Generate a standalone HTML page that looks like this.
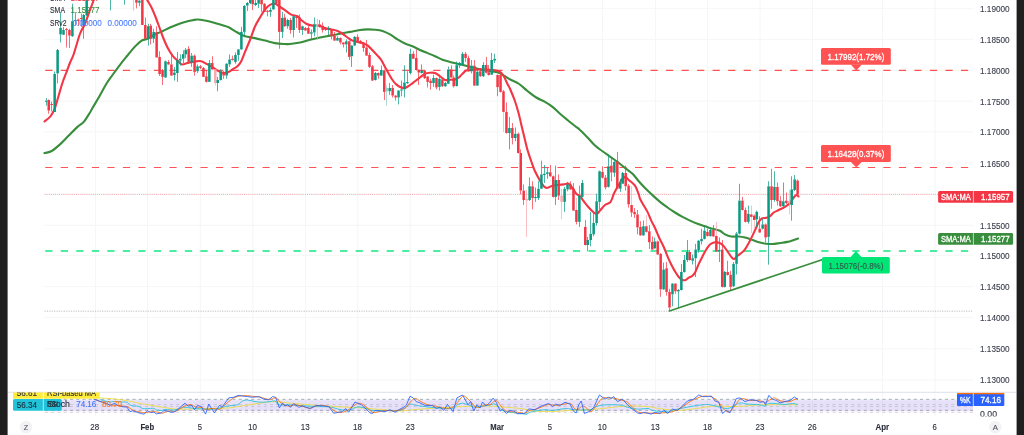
<!DOCTYPE html><html><head><meta charset="utf-8"><title>chart</title><style>html,body{margin:0;padding:0;background:#fff;}body{width:1024px;height:435px;overflow:hidden;font-family:"Liberation Sans",sans-serif;}svg{display:block}text{font-family:"Liberation Sans",sans-serif;}</style></head><body>
<svg width="1024" height="435" viewBox="0 0 1024 435">
<rect x="0" y="0" width="1024" height="435" fill="#ffffff"/>
<g style="will-change:transform">
<line x1="95.6" y1="0" x2="95.6" y2="416.5" stroke="#f5f6f7" stroke-width="1"/>
<line x1="147.6" y1="0" x2="147.6" y2="416.5" stroke="#f5f6f7" stroke-width="1"/>
<line x1="200.3" y1="0" x2="200.3" y2="416.5" stroke="#f5f6f7" stroke-width="1"/>
<line x1="252.8" y1="0" x2="252.8" y2="416.5" stroke="#f5f6f7" stroke-width="1"/>
<line x1="305.5" y1="0" x2="305.5" y2="416.5" stroke="#f5f6f7" stroke-width="1"/>
<line x1="357.8" y1="0" x2="357.8" y2="416.5" stroke="#f5f6f7" stroke-width="1"/>
<line x1="410.3" y1="0" x2="410.3" y2="416.5" stroke="#f5f6f7" stroke-width="1"/>
<line x1="497.5" y1="0" x2="497.5" y2="416.5" stroke="#f5f6f7" stroke-width="1"/>
<line x1="550.2" y1="0" x2="550.2" y2="416.5" stroke="#f5f6f7" stroke-width="1"/>
<line x1="602.5" y1="0" x2="602.5" y2="416.5" stroke="#f5f6f7" stroke-width="1"/>
<line x1="655.5" y1="0" x2="655.5" y2="416.5" stroke="#f5f6f7" stroke-width="1"/>
<line x1="707.6" y1="0" x2="707.6" y2="416.5" stroke="#f5f6f7" stroke-width="1"/>
<line x1="760.1" y1="0" x2="760.1" y2="416.5" stroke="#f5f6f7" stroke-width="1"/>
<line x1="812.5" y1="0" x2="812.5" y2="416.5" stroke="#f5f6f7" stroke-width="1"/>
<line x1="882.5" y1="0" x2="882.5" y2="416.5" stroke="#f5f6f7" stroke-width="1"/>
<line x1="935" y1="0" x2="935" y2="416.5" stroke="#f5f6f7" stroke-width="1"/>
<line x1="44.5" y1="8.40" x2="973" y2="8.40" stroke="#f5f6f7" stroke-width="1"/>
<line x1="44.5" y1="39.40" x2="973" y2="39.40" stroke="#f5f6f7" stroke-width="1"/>
<line x1="44.5" y1="70.30" x2="973" y2="70.30" stroke="#f5f6f7" stroke-width="1"/>
<line x1="44.5" y1="101.20" x2="973" y2="101.20" stroke="#f5f6f7" stroke-width="1"/>
<line x1="44.5" y1="131.90" x2="973" y2="131.90" stroke="#f5f6f7" stroke-width="1"/>
<line x1="44.5" y1="163.20" x2="973" y2="163.20" stroke="#f5f6f7" stroke-width="1"/>
<line x1="44.5" y1="194.10" x2="973" y2="194.10" stroke="#f5f6f7" stroke-width="1"/>
<line x1="44.5" y1="225.30" x2="973" y2="225.30" stroke="#f5f6f7" stroke-width="1"/>
<line x1="44.5" y1="255.40" x2="973" y2="255.40" stroke="#f5f6f7" stroke-width="1"/>
<line x1="44.5" y1="286.70" x2="973" y2="286.70" stroke="#f5f6f7" stroke-width="1"/>
<line x1="44.5" y1="317.40" x2="973" y2="317.40" stroke="#f5f6f7" stroke-width="1"/>
<line x1="44.5" y1="348.90" x2="973" y2="348.90" stroke="#f5f6f7" stroke-width="1"/>
<line x1="44.5" y1="380.00" x2="973" y2="380.00" stroke="#f5f6f7" stroke-width="1"/>
<line x1="7.6" y1="392.3" x2="1016.6" y2="392.3" stroke="#dfe2ec" stroke-width="1"/>
<rect x="44.5" y="399.4" width="928.5" height="11.4" fill="#5b4fe0" fill-opacity="0.13"/>
<rect x="44.5" y="400.6" width="928.5" height="11.9" fill="#9c4fd0" fill-opacity="0.05"/>
<line x1="44.5" y1="399.4" x2="973" y2="399.4" stroke="#6f8580" stroke-opacity="0.5" stroke-width="1.1" stroke-dasharray="3 3.25" stroke-dashoffset="-0.5"/>
<line x1="44.5" y1="404.6" x2="973" y2="404.6" stroke="#787b86" stroke-opacity="0.27" stroke-width="1" stroke-dasharray="3 3.25" stroke-dashoffset="-0.5"/>
<line x1="44.5" y1="406.6" x2="973" y2="406.6" stroke="#787b86" stroke-opacity="0.27" stroke-width="1" stroke-dasharray="3 3.25" stroke-dashoffset="-0.5"/>
<line x1="44.5" y1="410.4" x2="973" y2="410.4" stroke="#787b86" stroke-opacity="0.5" stroke-width="1.1" stroke-dasharray="3 3.25" stroke-dashoffset="-0.5"/>
<line x1="44.5" y1="412.4" x2="973" y2="412.4" stroke="#787b86" stroke-opacity="0.27" stroke-width="1" stroke-dasharray="3 3.25" stroke-dashoffset="-0.5"/>
<path d="M100.00,397.90 C101.67,398.02 106.77,398.33 110.00,398.60 C113.23,398.87 116.48,399.14 119.40,399.50 C122.32,399.86 124.90,400.28 127.50,400.75 C130.10,401.22 132.50,401.78 135.00,402.30 C137.50,402.82 140.00,403.43 142.50,403.90 C145.00,404.37 147.50,404.68 150.00,405.10 C152.50,405.52 155.00,405.98 157.50,406.40 C160.00,406.82 162.25,407.18 165.00,407.60 C167.75,408.02 170.67,408.65 174.00,408.90 C177.33,409.15 179.00,409.17 185.00,409.10 C191.00,409.03 202.71,408.70 210.00,408.50 C217.29,408.30 223.54,408.32 228.75,407.90 C233.96,407.48 237.08,406.63 241.25,406.00 C245.42,405.37 249.58,404.73 253.75,404.10 C257.92,403.48 262.50,402.67 266.25,402.25 C270.00,401.83 272.62,401.49 276.25,401.60 C279.88,401.71 284.04,402.50 288.00,402.90 C291.96,403.30 294.67,403.57 300.00,404.00 C305.33,404.43 313.33,405.03 320.00,405.50 C326.67,405.97 333.33,406.42 340.00,406.80 C346.67,407.18 353.33,407.35 360.00,407.80 C366.67,408.25 373.33,408.97 380.00,409.50 C386.67,410.03 394.58,410.96 400.00,411.00 C405.42,411.04 406.25,410.27 412.50,409.75 C418.75,409.23 429.17,408.42 437.50,407.90 C445.83,407.38 454.17,406.92 462.50,406.60 C470.83,406.28 480.21,405.89 487.50,406.00 C494.79,406.11 500.00,406.73 506.25,407.25 C512.50,407.77 520.62,408.48 525.00,409.10 C529.38,409.73 528.12,410.58 532.50,411.00 C536.88,411.42 545.00,411.70 551.25,411.60 C557.50,411.50 563.75,410.71 570.00,410.40 C576.25,410.09 582.50,410.17 588.75,409.75 C595.00,409.33 601.25,408.52 607.50,407.90 C613.75,407.27 619.50,406.22 626.25,406.00 C633.00,405.78 642.58,406.18 648.00,406.60 C653.42,407.02 653.83,407.87 658.75,408.50 C663.67,409.13 671.25,410.40 677.50,410.40 C683.75,410.40 690.00,409.23 696.25,408.50 C702.50,407.77 708.75,406.32 715.00,406.00 C721.25,405.68 727.50,406.70 733.75,406.60 C740.00,406.50 746.79,405.71 752.50,405.40 C758.21,405.09 760.50,404.86 768.00,404.75 C775.50,404.64 792.58,404.75 797.50,404.75" fill="none" stroke="#ecdc45" stroke-width="1.0" stroke-opacity="0.9" stroke-linejoin="round" stroke-linecap="round" />
<path d="M100.00,399.50 C100.83,399.75 103.33,400.58 105.00,401.00 C106.67,401.42 108.12,401.93 110.00,402.00 C111.88,402.07 114.17,401.40 116.25,401.40 C118.33,401.40 120.62,401.85 122.50,402.00 C124.38,402.15 126.15,401.73 127.50,402.30 C128.85,402.87 129.14,404.78 130.60,405.40 C132.06,406.02 134.78,405.78 136.25,406.00 C137.72,406.22 138.36,406.27 139.40,406.70 C140.44,407.13 141.15,408.28 142.50,408.60 C143.85,408.92 145.62,408.63 147.50,408.60 C149.38,408.57 152.18,408.15 153.75,408.40 C155.32,408.65 155.54,409.77 156.90,410.10 C158.26,410.43 160.55,410.50 161.90,410.40 C163.25,410.30 163.65,409.60 165.00,409.50 C166.35,409.40 168.50,409.70 170.00,409.80 C171.50,409.90 172.33,410.32 174.00,410.10 C175.67,409.88 178.17,408.98 180.00,408.50 C181.83,408.02 182.50,407.25 185.00,407.25 C187.50,407.25 191.67,408.19 195.00,408.50 C198.33,408.81 201.67,409.00 205.00,409.10 C208.33,409.20 212.08,409.41 215.00,409.10 C217.92,408.79 220.42,407.77 222.50,407.25 C224.58,406.73 225.00,406.42 227.50,406.00 C230.00,405.58 235.00,405.58 237.50,404.75 C240.00,403.92 240.83,401.79 242.50,401.00 C244.17,400.21 245.42,399.90 247.50,400.00 C249.58,400.10 252.50,401.23 255.00,401.60 C257.50,401.98 260.00,402.25 262.50,402.25 C265.00,402.25 267.92,401.81 270.00,401.60 C272.08,401.39 273.54,400.48 275.00,401.00 C276.46,401.52 276.58,404.12 278.75,404.75 C280.92,405.38 284.46,404.62 288.00,404.75 C291.54,404.88 295.50,405.21 300.00,405.50 C304.50,405.79 310.00,406.25 315.00,406.50 C320.00,406.75 325.83,406.50 330.00,407.00 C334.17,407.50 336.67,409.00 340.00,409.50 C343.33,410.00 347.17,410.42 350.00,410.00 C352.83,409.58 354.50,407.33 357.00,407.00 C359.50,406.67 362.50,407.42 365.00,408.00 C367.50,408.58 368.67,410.08 372.00,410.50 C375.33,410.92 380.33,410.52 385.00,410.50 C389.67,410.48 396.25,411.15 400.00,410.40 C403.75,409.65 405.83,407.05 407.50,406.00 C409.17,404.95 408.54,404.20 410.00,404.10 C411.46,404.00 413.75,404.98 416.25,405.40 C418.75,405.82 421.46,406.18 425.00,406.60 C428.54,407.02 432.92,407.58 437.50,407.90 C442.08,408.22 449.17,409.02 452.50,408.50 C455.83,407.98 455.83,405.62 457.50,404.75 C459.17,403.88 460.42,403.14 462.50,403.25 C464.58,403.36 467.92,404.73 470.00,405.40 C472.08,406.07 472.08,407.25 475.00,407.25 C477.92,407.25 484.17,405.92 487.50,405.40 C490.83,404.88 492.92,403.58 495.00,404.10 C497.08,404.62 498.12,407.25 500.00,408.50 C501.88,409.75 502.08,410.67 506.25,411.60 C510.42,412.53 521.67,413.68 525.00,414.10 C528.33,414.52 525.00,414.52 526.25,414.10 C527.50,413.68 529.38,412.33 532.50,411.60 C535.62,410.88 541.67,409.95 545.00,409.75 C548.33,409.55 548.96,410.61 552.50,410.40 C556.04,410.19 562.50,408.61 566.25,408.50 C570.00,408.39 571.04,409.54 575.00,409.75 C578.96,409.96 586.67,410.17 590.00,409.75 C593.33,409.33 593.33,407.98 595.00,407.25 C596.67,406.52 597.92,405.82 600.00,405.40 C602.08,404.98 605.00,404.86 607.50,404.75 C610.00,404.64 612.50,404.64 615.00,404.75 C617.50,404.86 620.42,404.98 622.50,405.40 C624.58,405.82 625.00,406.63 627.50,407.25 C630.00,407.87 634.08,408.89 637.50,409.10 C640.92,409.31 645.50,408.28 648.00,408.50 C650.50,408.72 649.67,409.88 652.50,410.40 C655.33,410.92 660.83,411.82 665.00,411.60 C669.17,411.38 673.33,409.93 677.50,409.10 C681.67,408.27 685.83,407.33 690.00,406.60 C694.17,405.88 699.17,405.06 702.50,404.75 C705.83,404.44 707.50,404.44 710.00,404.75 C712.50,405.06 714.58,405.98 717.50,406.60 C720.42,407.23 724.58,408.70 727.50,408.50 C730.42,408.30 732.92,406.33 735.00,405.40 C737.08,404.47 737.92,403.12 740.00,402.90 C742.08,402.68 744.38,403.79 747.50,404.10 C750.62,404.41 755.83,404.43 758.75,404.75 C761.67,405.07 763.33,406.21 765.00,406.00 C766.67,405.79 767.08,403.92 768.75,403.50 C770.42,403.08 772.29,403.33 775.00,403.50 C777.71,403.67 782.08,404.50 785.00,404.50 C787.92,404.50 790.42,403.50 792.50,403.50 C794.58,403.50 796.67,404.33 797.50,404.50" fill="none" stroke="#2bc2da" stroke-width="1.0" stroke-opacity="0.9" stroke-linejoin="round" stroke-linecap="round" />
<path d="M94.00,399.20 C95.00,399.57 97.75,400.62 100.00,401.40 C102.25,402.18 105.83,403.28 107.50,403.90 C109.17,404.52 108.54,404.85 110.00,405.10 C111.46,405.35 114.17,405.25 116.25,405.40 C118.33,405.55 120.62,405.78 122.50,406.00 C124.38,406.22 126.04,406.17 127.50,406.70 C128.96,407.23 130.00,408.48 131.25,409.20 C132.50,409.92 133.54,410.53 135.00,411.00 C136.46,411.47 138.33,411.68 140.00,412.00 C141.67,412.32 143.54,412.90 145.00,412.90 C146.46,412.90 147.29,412.20 148.75,412.00 C150.21,411.80 152.08,411.65 153.75,411.70 C155.42,411.75 157.29,412.04 158.75,412.30 C160.21,412.56 161.25,413.35 162.50,413.25 C163.75,413.15 165.00,412.07 166.25,411.70 C167.50,411.32 168.54,411.02 170.00,411.00 C171.46,410.98 173.12,412.12 175.00,411.60 C176.88,411.08 179.38,408.93 181.25,407.90 C183.12,406.87 184.58,405.92 186.25,405.40 C187.92,404.88 189.58,404.44 191.25,404.75 C192.92,405.06 194.58,406.83 196.25,407.25 C197.92,407.67 199.58,406.83 201.25,407.25 C202.92,407.67 204.58,409.54 206.25,409.75 C207.92,409.96 209.58,408.61 211.25,408.50 C212.92,408.39 214.79,409.00 216.25,409.10 C217.71,409.20 218.54,409.83 220.00,409.10 C221.46,408.38 223.33,406.20 225.00,404.75 C226.67,403.30 228.33,401.65 230.00,400.40 C231.67,399.15 233.12,398.02 235.00,397.25 C236.88,396.48 239.17,396.00 241.25,395.75 C243.33,395.50 245.21,395.61 247.50,395.75 C249.79,395.89 252.92,396.39 255.00,396.60 C257.08,396.81 258.12,396.58 260.00,397.00 C261.88,397.42 264.38,398.75 266.25,399.10 C268.12,399.45 269.58,399.30 271.25,399.10 C272.92,398.90 274.79,397.43 276.25,397.90 C277.71,398.37 278.54,400.65 280.00,401.90 C281.46,403.15 283.33,404.72 285.00,405.40 C286.67,406.08 288.33,406.11 290.00,406.00 C291.67,405.89 293.12,404.75 295.00,404.75 C296.88,404.75 298.75,405.42 301.25,406.00 C303.75,406.58 307.50,408.25 310.00,408.25 C312.50,408.25 314.17,406.48 316.25,406.00 C318.33,405.52 320.42,405.30 322.50,405.40 C324.58,405.50 326.88,405.77 328.75,406.60 C330.62,407.43 332.29,409.46 333.75,410.40 C335.21,411.34 336.04,411.94 337.50,412.25 C338.96,412.56 340.83,412.56 342.50,412.25 C344.17,411.94 345.83,411.34 347.50,410.40 C349.17,409.46 350.83,407.75 352.50,406.60 C354.17,405.45 356.04,404.02 357.50,403.50 C358.96,402.98 360.00,403.08 361.25,403.50 C362.50,403.92 363.54,404.85 365.00,406.00 C366.46,407.15 368.54,409.30 370.00,410.40 C371.46,411.50 372.29,412.40 373.75,412.60 C375.21,412.80 376.67,411.97 378.75,411.60 C380.83,411.23 383.54,410.50 386.25,410.40 C388.96,410.30 392.29,411.22 395.00,411.00 C397.71,410.78 400.62,409.73 402.50,409.10 C404.38,408.48 404.79,408.60 406.25,407.25 C407.71,405.90 409.69,402.46 411.25,401.00 C412.81,399.54 414.14,398.50 415.60,398.50 C417.06,398.50 418.02,399.96 420.00,401.00 C421.98,402.04 425.00,403.92 427.50,404.75 C430.00,405.58 432.50,405.48 435.00,406.00 C437.50,406.52 440.00,407.52 442.50,407.90 C445.00,408.27 447.92,408.67 450.00,408.25 C452.08,407.83 453.33,406.92 455.00,405.40 C456.67,403.88 458.54,400.67 460.00,399.10 C461.46,397.53 462.40,396.00 463.75,396.00 C465.10,396.00 466.74,397.95 468.10,399.10 C469.46,400.25 470.75,401.65 471.90,402.90 C473.05,404.15 473.65,405.88 475.00,406.60 C476.35,407.33 478.33,407.56 480.00,407.25 C481.67,406.94 483.33,405.17 485.00,404.75 C486.67,404.33 488.54,405.27 490.00,404.75 C491.46,404.23 492.60,402.27 493.75,401.60 C494.90,400.93 495.86,400.23 496.90,400.75 C497.94,401.27 498.65,403.14 500.00,404.75 C501.35,406.36 503.33,409.26 505.00,410.40 C506.67,411.54 507.92,411.29 510.00,411.60 C512.08,411.91 515.21,411.98 517.50,412.25 C519.79,412.52 522.50,413.04 523.75,413.25 C525.00,413.46 523.96,413.98 525.00,413.50 C526.04,413.02 528.12,411.13 530.00,410.40 C531.88,409.67 534.17,409.73 536.25,409.10 C538.33,408.47 540.42,407.37 542.50,406.60 C544.58,405.83 546.67,404.70 548.75,404.50 C550.83,404.30 552.92,405.36 555.00,405.40 C557.08,405.44 559.17,405.07 561.25,404.75 C563.33,404.43 565.83,403.61 567.50,403.50 C569.17,403.39 570.00,403.17 571.25,404.10 C572.50,405.03 573.86,408.27 575.00,409.10 C576.14,409.93 576.85,409.62 578.10,409.10 C579.35,408.58 581.14,406.20 582.50,406.00 C583.86,405.80 584.79,406.97 586.25,407.90 C587.71,408.83 589.79,411.71 591.25,411.60 C592.71,411.49 593.75,408.81 595.00,407.25 C596.25,405.69 597.50,403.81 598.75,402.25 C600.00,400.69 601.04,398.62 602.50,397.90 C603.96,397.17 605.83,397.90 607.50,397.90 C609.17,397.90 610.83,397.70 612.50,397.90 C614.17,398.10 615.83,398.68 617.50,399.10 C619.17,399.52 620.83,399.88 622.50,400.40 C624.17,400.92 625.83,401.11 627.50,402.25 C629.17,403.39 630.83,405.69 632.50,407.25 C634.17,408.81 635.83,410.66 637.50,411.60 C639.17,412.54 640.83,412.68 642.50,412.90 C644.17,413.12 645.42,412.80 647.50,412.90 C649.58,413.00 652.50,413.50 655.00,413.50 C657.50,413.50 660.00,413.11 662.50,412.90 C665.00,412.69 667.50,412.77 670.00,412.25 C672.50,411.73 675.21,410.79 677.50,409.75 C679.79,408.71 681.67,407.36 683.75,406.00 C685.83,404.64 687.92,402.85 690.00,401.60 C692.08,400.35 694.17,399.39 696.25,398.50 C698.33,397.61 700.42,396.62 702.50,396.25 C704.58,395.88 706.88,395.98 708.75,396.25 C710.62,396.52 712.08,396.90 713.75,397.90 C715.42,398.90 717.29,400.58 718.75,402.25 C720.21,403.92 721.25,406.44 722.50,407.90 C723.75,409.36 725.10,410.38 726.25,411.00 C727.40,411.62 728.15,412.23 729.40,411.60 C730.65,410.98 732.19,409.12 733.75,407.25 C735.31,405.38 737.29,401.86 738.75,400.40 C740.21,398.94 740.83,398.50 742.50,398.50 C744.17,398.50 746.46,400.08 748.75,400.40 C751.04,400.72 753.96,400.20 756.25,400.40 C758.54,400.60 761.04,401.18 762.50,401.60 C763.96,402.02 763.75,403.21 765.00,402.90 C766.25,402.59 768.43,400.58 770.00,399.75 C771.57,398.92 772.94,397.79 774.40,397.90 C775.86,398.01 776.98,399.78 778.75,400.40 C780.52,401.02 783.12,401.40 785.00,401.60 C786.88,401.80 788.54,401.91 790.00,401.60 C791.46,401.29 792.50,400.27 793.75,399.75 C795.00,399.23 796.88,398.71 797.50,398.50" fill="none" stroke="#ff6d00" stroke-width="0.95" stroke-opacity="0.9" stroke-linejoin="round" stroke-linecap="round" />
<path d="M94.00,399.20 L100.00,401.40 L107.50,403.90 L110.00,405.40 L115.00,403.25 L117.50,405.40 L122.50,406.70 L126.90,407.00 L130.00,411.70 L132.50,410.75 L136.25,412.00 L141.25,413.60 L144.00,414.20 L147.50,410.75 L150.60,412.60 L153.75,412.00 L156.25,413.90 L161.25,412.90 L163.75,410.75 L167.50,411.00 L171.25,412.30 L174.00,412.00 L178.75,408.50 L185.00,403.25 L188.10,406.00 L191.90,405.40 L194.40,409.75 L197.50,405.40 L201.25,406.60 L205.60,414.10 L208.75,404.10 L214.40,412.90 L219.40,405.40 L222.50,406.60 L228.75,397.90 L233.75,397.25 L238.10,395.40 L242.50,396.00 L247.50,396.60 L252.50,397.25 L258.75,396.60 L263.75,399.10 L268.75,399.75 L272.50,396.60 L275.60,397.25 L279.40,407.90 L281.90,404.10 L282.50,402.90 L285.00,406.00 L287.50,404.75 L290.60,407.25 L293.75,403.50 L298.75,407.25 L302.50,406.00 L310.00,408.50 L316.25,405.40 L323.75,406.00 L328.75,406.60 L333.75,413.25 L338.75,412.25 L342.50,411.60 L345.60,408.50 L348.75,412.25 L355.00,402.00 L361.25,404.75 L366.25,409.10 L370.00,412.90 L372.50,413.50 L375.00,410.40 L380.00,411.00 L385.00,411.60 L390.00,409.75 L395.00,412.25 L398.75,409.75 L403.75,407.25 L406.25,405.40 L410.00,396.25 L413.10,397.90 L416.25,401.60 L420.00,402.90 L425.00,405.40 L432.50,405.40 L436.25,408.50 L440.00,407.25 L443.75,410.40 L447.50,404.50 L453.10,411.60 L456.90,397.90 L462.50,395.00 L468.10,404.75 L470.60,401.60 L473.75,411.00 L476.90,404.75 L480.00,407.90 L482.50,402.00 L486.25,406.00 L490.00,402.25 L493.10,398.10 L496.25,402.25 L500.00,411.00 L502.50,409.10 L506.25,413.50 L510.00,410.40 L513.75,411.00 L517.50,413.75 L523.75,413.50 L525.00,412.90 L528.75,408.90 L535.00,409.75 L541.25,406.00 L548.75,403.50 L552.50,406.60 L555.60,404.10 L560.00,405.40 L565.00,402.25 L570.00,404.10 L573.75,411.60 L576.25,412.90 L578.75,404.75 L581.25,401.00 L584.40,413.50 L590.00,411.00 L593.75,407.25 L599.40,395.00 L605.00,399.10 L608.75,397.25 L611.25,398.50 L613.75,396.60 L617.50,401.60 L622.50,399.10 L627.50,404.75 L632.50,409.10 L637.50,412.90 L640.00,413.75 L643.75,412.25 L651.25,414.10 L655.00,412.25 L660.00,413.50 L663.75,410.00 L667.50,413.50 L672.50,409.10 L677.50,410.40 L682.50,406.00 L687.50,401.00 L693.75,399.10 L698.75,395.00 L702.50,396.60 L707.50,396.60 L711.25,396.00 L715.00,401.00 L718.75,402.25 L722.50,413.50 L726.25,410.40 L730.00,412.90 L733.75,404.75 L736.25,398.50 L740.00,397.90 L745.00,401.60 L750.00,399.75 L756.25,400.40 L760.00,402.25 L763.75,401.60 L765.60,404.75 L768.75,395.40 L772.50,399.10 L776.25,400.40 L780.00,402.90 L785.00,401.60 L790.00,400.40 L794.40,397.00 L797.50,399.10" fill="none" stroke="#2962ff" stroke-width="0.95" stroke-opacity="0.9" stroke-linejoin="round" stroke-linecap="round" />
<line x1="44.5" y1="194.4" x2="938" y2="194.4" stroke="#f23645" stroke-width="0.8" stroke-opacity="0.55" stroke-dasharray="1 1.1"/>
<line x1="44.5" y1="311.2" x2="973" y2="311.2" stroke="#8d909a" stroke-width="0.9" stroke-opacity="0.65" stroke-dasharray="1.2 1.2"/>
<line x1="45.25" y1="70.4" x2="973" y2="70.4" stroke="#ff5252" stroke-width="1.1" stroke-opacity="1" stroke-dasharray="7.2 8.32"/>
<line x1="45.25" y1="167.5" x2="973" y2="167.5" stroke="#ff5252" stroke-width="1.1" stroke-opacity="1" stroke-dasharray="7.2 8.32"/>
<line x1="45.25" y1="251" x2="973" y2="251" stroke="#00e676" stroke-width="1.9" stroke-opacity="0.7" stroke-dasharray="7.2 8.32"/>
<path d="M44.50,153.10 C45.62,152.79 48.67,152.70 51.25,151.25 C53.83,149.80 57.08,147.01 60.00,144.40 C62.92,141.79 65.83,138.52 68.75,135.60 C71.67,132.68 75.00,129.18 77.50,126.90 C80.00,124.62 81.67,124.30 83.75,121.90 C85.83,119.50 88.54,114.82 90.00,112.50 C91.46,110.18 90.83,110.88 92.50,108.00 C94.17,105.12 97.71,99.25 100.00,95.25 C102.29,91.25 104.17,87.38 106.25,84.00 C108.33,80.62 110.21,78.20 112.50,75.00 C114.79,71.80 117.50,68.05 120.00,64.80 C122.50,61.55 125.83,57.57 127.50,55.50 C129.17,53.43 128.75,53.88 130.00,52.40 C131.25,50.92 133.12,48.53 135.00,46.60 C136.88,44.67 139.17,42.11 141.25,40.80 C143.33,39.49 145.21,39.82 147.50,38.75 C149.79,37.68 152.50,35.65 155.00,34.40 C157.50,33.15 160.00,32.40 162.50,31.25 C165.00,30.10 167.50,28.64 170.00,27.50 C172.50,26.36 175.00,25.33 177.50,24.40 C180.00,23.47 182.50,22.60 185.00,21.90 C187.50,21.20 190.33,20.60 192.50,20.20 C194.67,19.80 195.50,19.37 198.00,19.50 C200.50,19.63 204.25,20.29 207.50,21.00 C210.75,21.71 214.08,22.77 217.50,23.75 C220.92,24.73 225.92,26.19 228.00,26.90 C230.08,27.61 228.42,27.07 230.00,28.00 C231.58,28.93 235.00,31.12 237.50,32.50 C240.00,33.88 242.08,35.32 245.00,36.25 C247.92,37.18 251.67,37.38 255.00,38.10 C258.33,38.83 261.67,39.77 265.00,40.60 C268.33,41.43 271.67,42.53 275.00,43.10 C278.33,43.67 282.50,43.85 285.00,44.00 C287.50,44.15 287.50,44.25 290.00,44.00 C292.50,43.75 296.67,43.21 300.00,42.50 C303.33,41.79 306.67,40.58 310.00,39.75 C313.33,38.92 316.67,38.19 320.00,37.50 C323.33,36.81 326.67,36.23 330.00,35.60 C333.33,34.98 336.67,34.37 340.00,33.75 C343.33,33.13 346.67,32.52 350.00,31.90 C353.33,31.27 357.08,30.42 360.00,30.00 C362.92,29.58 365.00,29.44 367.50,29.40 C370.00,29.36 372.50,29.48 375.00,29.75 C377.50,30.02 380.00,30.23 382.50,31.00 C385.00,31.77 387.50,33.00 390.00,34.40 C392.50,35.80 395.00,37.88 397.50,39.40 C400.00,40.92 402.50,42.36 405.00,43.50 C407.50,44.64 410.00,45.17 412.50,46.25 C415.00,47.33 417.50,48.86 420.00,50.00 C422.50,51.14 425.00,52.06 427.50,53.10 C430.00,54.14 432.50,55.15 435.00,56.25 C437.50,57.35 440.00,58.76 442.50,59.70 C445.00,60.64 447.50,61.23 450.00,61.90 C452.50,62.57 455.00,63.08 457.50,63.70 C460.00,64.32 462.08,64.88 465.00,65.60 C467.92,66.32 471.67,67.22 475.00,68.00 C478.33,68.78 482.08,69.72 485.00,70.30 C487.92,70.88 490.21,71.09 492.50,71.50 C494.79,71.91 496.67,71.96 498.75,72.75 C500.83,73.54 502.92,75.04 505.00,76.25 C507.08,77.46 508.96,78.75 511.25,80.00 C513.54,81.25 516.04,81.92 518.75,83.75 C521.46,85.58 524.58,88.71 527.50,91.00 C530.42,93.29 533.33,95.68 536.25,97.50 C539.17,99.32 542.29,100.33 545.00,101.90 C547.71,103.47 550.00,104.93 552.50,106.90 C555.00,108.88 557.50,111.57 560.00,113.75 C562.50,115.93 565.00,117.96 567.50,120.00 C570.00,122.04 572.92,124.33 575.00,126.00 C577.08,127.67 577.92,128.08 580.00,130.00 C582.08,131.92 585.00,134.90 587.50,137.50 C590.00,140.10 592.50,143.31 595.00,145.60 C597.50,147.89 600.00,149.42 602.50,151.25 C605.00,153.08 607.50,154.82 610.00,156.60 C612.50,158.38 615.00,160.00 617.50,161.90 C620.00,163.80 622.50,166.03 625.00,168.00 C627.50,169.97 630.21,171.54 632.50,173.75 C634.79,175.96 636.67,178.88 638.75,181.25 C640.83,183.62 642.92,185.88 645.00,188.00 C647.08,190.12 648.75,191.68 651.25,194.00 C653.75,196.32 657.29,199.65 660.00,201.90 C662.71,204.15 665.00,205.73 667.50,207.50 C670.00,209.27 672.50,210.93 675.00,212.50 C677.50,214.07 680.00,215.55 682.50,216.90 C685.00,218.25 687.50,219.46 690.00,220.60 C692.50,221.74 695.00,222.81 697.50,223.75 C700.00,224.69 702.50,225.42 705.00,226.25 C707.50,227.08 710.00,227.99 712.50,228.75 C715.00,229.51 717.92,229.86 720.00,230.80 C722.08,231.74 723.12,233.45 725.00,234.40 C726.88,235.35 728.96,236.15 731.25,236.50 C733.54,236.85 736.46,236.33 738.75,236.50 C741.04,236.67 742.71,236.92 745.00,237.50 C747.29,238.08 750.00,239.17 752.50,240.00 C755.00,240.83 757.71,241.88 760.00,242.50 C762.29,243.12 764.17,243.50 766.25,243.75 C768.33,244.00 770.21,244.12 772.50,244.00 C774.79,243.88 777.50,243.35 780.00,243.00 C782.50,242.65 785.21,242.40 787.50,241.90 C789.79,241.40 791.98,240.57 793.75,240.00 C795.52,239.43 797.38,238.75 798.10,238.50" fill="none" stroke="#388e3c" stroke-width="2.1" stroke-opacity="1" stroke-linejoin="round" stroke-linecap="round" />
<path d="M44.50,121.50 C45.42,120.73 48.57,118.50 50.00,116.90 C51.43,115.30 52.27,113.38 53.10,111.90 C53.93,110.42 54.06,110.78 55.00,108.00 C55.94,105.22 57.50,99.46 58.75,95.25 C60.00,91.04 61.25,86.50 62.50,82.75 C63.75,79.00 65.00,76.08 66.25,72.75 C67.50,69.42 68.75,65.88 70.00,62.75 C71.25,59.62 72.08,58.83 73.75,54.00 C75.42,49.17 78.12,38.79 80.00,33.75 C81.88,28.71 83.33,27.71 85.00,23.75 C86.67,19.79 88.54,13.96 90.00,10.00 C91.46,6.04 92.75,2.67 93.75,0.00 C94.75,-2.67 95.62,-5.00 96.00,-6.00" fill="none" stroke="#f23645" stroke-width="2.1" stroke-opacity="1" stroke-linejoin="round" stroke-linecap="round" />
<path d="M144.00,-6.00 C144.48,-5.08 145.65,-2.75 146.90,-0.50 C148.15,1.75 150.11,4.71 151.50,7.50 C152.89,10.29 154.00,13.12 155.25,16.25 C156.50,19.38 157.78,22.92 159.00,26.25 C160.22,29.58 161.18,32.71 162.60,36.25 C164.02,39.79 165.85,44.27 167.50,47.50 C169.15,50.73 170.83,53.42 172.50,55.60 C174.17,57.78 175.93,59.13 177.50,60.60 C179.07,62.07 180.23,64.00 181.90,64.40 C183.57,64.80 185.32,63.48 187.50,63.00 C189.68,62.52 192.71,61.80 195.00,61.50 C197.29,61.20 199.38,60.83 201.25,61.20 C203.12,61.58 204.38,62.75 206.25,63.75 C208.12,64.75 210.62,66.06 212.50,67.20 C214.38,68.34 215.83,69.67 217.50,70.60 C219.17,71.52 220.83,72.43 222.50,72.75 C224.17,73.07 225.83,73.06 227.50,72.50 C229.17,71.94 230.83,70.44 232.50,69.40 C234.17,68.36 236.04,67.61 237.50,66.25 C238.96,64.89 240.00,63.64 241.25,61.25 C242.50,58.86 243.54,55.44 245.00,51.90 C246.46,48.36 248.33,44.23 250.00,40.00 C251.67,35.77 253.33,30.25 255.00,26.50 C256.67,22.75 258.33,20.33 260.00,17.50 C261.67,14.67 263.33,11.60 265.00,9.50 C266.67,7.40 268.33,5.86 270.00,4.90 C271.67,3.94 273.54,3.57 275.00,3.75 C276.46,3.93 277.08,4.93 278.75,6.00 C280.42,7.07 282.92,8.77 285.00,10.20 C287.08,11.63 289.17,13.59 291.25,14.60 C293.33,15.61 295.83,15.35 297.50,16.25 C299.17,17.15 299.79,18.75 301.25,20.00 C302.71,21.25 304.38,22.82 306.25,23.75 C308.12,24.68 310.42,25.29 312.50,25.60 C314.58,25.91 316.67,25.20 318.75,25.60 C320.83,26.00 322.92,27.37 325.00,28.00 C327.08,28.63 329.17,28.90 331.25,29.40 C333.33,29.90 335.62,30.27 337.50,31.00 C339.38,31.73 340.83,32.67 342.50,33.75 C344.17,34.83 345.83,36.36 347.50,37.50 C349.17,38.64 350.83,39.87 352.50,40.60 C354.17,41.33 355.83,41.50 357.50,41.90 C359.17,42.30 360.83,42.43 362.50,43.00 C364.17,43.57 365.83,44.08 367.50,45.30 C369.17,46.52 370.83,48.58 372.50,50.30 C374.17,52.02 376.04,53.98 377.50,55.60 C378.96,57.22 380.00,58.12 381.25,60.00 C382.50,61.88 383.75,64.61 385.00,66.90 C386.25,69.19 387.50,71.57 388.75,73.75 C390.00,75.93 391.25,78.22 392.50,80.00 C393.75,81.78 394.79,83.15 396.25,84.40 C397.71,85.65 399.79,86.92 401.25,87.50 C402.71,88.08 403.54,88.32 405.00,87.90 C406.46,87.48 408.33,86.11 410.00,85.00 C411.67,83.89 413.33,82.50 415.00,81.25 C416.67,80.00 418.33,78.75 420.00,77.50 C421.67,76.25 423.33,74.54 425.00,73.75 C426.67,72.96 428.33,72.88 430.00,72.75 C431.67,72.62 433.33,72.42 435.00,73.00 C436.67,73.58 438.33,75.10 440.00,76.25 C441.67,77.40 443.33,79.33 445.00,79.90 C446.67,80.48 448.33,79.77 450.00,79.70 C451.67,79.63 453.54,79.87 455.00,79.50 C456.46,79.13 457.50,78.46 458.75,77.50 C460.00,76.54 461.25,74.90 462.50,73.75 C463.75,72.60 464.58,71.22 466.25,70.60 C467.92,69.97 470.21,70.20 472.50,70.00 C474.79,69.80 477.50,69.44 480.00,69.40 C482.50,69.36 485.00,69.62 487.50,69.75 C490.00,69.88 492.92,69.84 495.00,70.20 C497.08,70.56 498.54,70.89 500.00,71.90 C501.46,72.91 502.50,74.23 503.75,76.25 C505.00,78.27 506.46,81.92 507.50,84.00 C508.54,86.08 508.75,85.88 510.00,88.75 C511.25,91.62 513.54,97.08 515.00,101.25 C516.46,105.42 517.71,109.89 518.75,113.75 C519.79,117.61 520.31,120.44 521.25,124.40 C522.19,128.36 523.36,133.23 524.40,137.50 C525.44,141.77 526.36,146.04 527.50,150.00 C528.64,153.96 530.00,157.71 531.25,161.25 C532.50,164.79 533.54,168.03 535.00,171.25 C536.46,174.47 538.54,178.10 540.00,180.60 C541.46,183.10 542.60,185.02 543.75,186.25 C544.90,187.48 545.65,188.00 546.90,188.00 C548.15,188.00 549.48,186.75 551.25,186.25 C553.02,185.75 555.42,185.31 557.50,185.00 C559.58,184.69 561.88,184.61 563.75,184.40 C565.62,184.19 567.29,183.15 568.75,183.75 C570.21,184.35 571.25,186.33 572.50,188.00 C573.75,189.67 575.00,192.38 576.25,193.75 C577.50,195.12 578.75,195.00 580.00,196.25 C581.25,197.50 582.29,199.38 583.75,201.25 C585.21,203.12 587.08,205.62 588.75,207.50 C590.42,209.38 592.39,211.46 593.75,212.50 C595.11,213.54 595.86,214.07 596.90,213.75 C597.94,213.43 598.65,212.06 600.00,210.60 C601.35,209.14 603.23,206.45 605.00,205.00 C606.77,203.55 609.14,203.73 610.60,201.90 C612.06,200.07 612.70,196.32 613.75,194.00 C614.80,191.68 615.96,189.71 616.90,188.00 C617.84,186.29 618.47,185.29 619.40,183.75 C620.33,182.21 621.47,179.89 622.50,178.75 C623.53,177.61 624.56,176.69 625.60,176.90 C626.64,177.11 627.18,178.55 628.75,180.00 C630.32,181.45 633.33,183.20 635.00,185.60 C636.67,188.00 637.92,192.21 638.75,194.40 C639.58,196.59 639.17,196.88 640.00,198.75 C640.83,200.62 642.50,203.41 643.75,205.60 C645.00,207.79 646.25,209.40 647.50,211.90 C648.75,214.40 650.00,217.92 651.25,220.60 C652.50,223.28 653.88,225.60 655.00,228.00 C656.12,230.40 657.17,233.08 658.00,235.00 C658.83,236.92 659.04,237.50 660.00,239.50 C660.96,241.50 662.50,244.18 663.75,247.00 C665.00,249.82 666.25,253.48 667.50,256.40 C668.75,259.32 670.00,262.00 671.25,264.50 C672.50,267.00 673.75,269.32 675.00,271.40 C676.25,273.48 677.50,275.57 678.75,277.00 C680.00,278.43 681.36,279.50 682.50,280.00 C683.64,280.50 684.56,280.40 685.60,280.00 C686.64,279.60 687.60,278.31 688.75,277.60 C689.90,276.89 691.36,276.78 692.50,275.75 C693.64,274.72 694.56,273.38 695.60,271.40 C696.64,269.42 697.60,266.40 698.75,263.90 C699.90,261.40 701.25,258.80 702.50,256.40 C703.75,254.00 705.00,251.48 706.25,249.50 C707.50,247.52 708.75,245.68 710.00,244.50 C711.25,243.32 712.50,242.75 713.75,242.40 C715.00,242.05 716.25,242.15 717.50,242.40 C718.75,242.65 720.00,243.00 721.25,243.90 C722.50,244.80 723.75,246.24 725.00,247.80 C726.25,249.36 727.60,251.62 728.75,253.25 C729.90,254.88 730.96,256.66 731.90,257.60 C732.84,258.54 733.47,259.21 734.40,258.90 C735.33,258.59 736.15,256.90 737.50,255.75 C738.85,254.60 741.25,253.06 742.50,252.00 C743.75,250.94 743.96,250.90 745.00,249.40 C746.04,247.90 747.50,245.30 748.75,243.00 C750.00,240.70 751.25,238.18 752.50,235.60 C753.75,233.02 755.21,229.78 756.25,227.50 C757.29,225.22 757.81,223.40 758.75,221.90 C759.69,220.40 760.65,219.19 761.90,218.50 C763.15,217.81 764.90,218.12 766.25,217.75 C767.60,217.38 768.75,217.12 770.00,216.25 C771.25,215.38 772.29,213.54 773.75,212.50 C775.21,211.46 776.88,210.93 778.75,210.00 C780.62,209.07 783.12,208.07 785.00,206.90 C786.88,205.73 788.54,204.57 790.00,203.00 C791.46,201.43 792.71,198.83 793.75,197.50 C794.79,196.17 795.46,195.17 796.25,195.00 C797.04,194.83 798.12,196.25 798.50,196.50" fill="none" stroke="#f23645" stroke-width="2.1" stroke-opacity="1" stroke-linejoin="round" stroke-linecap="round" />
<line x1="46.50" y1="98" x2="46.50" y2="100.7" stroke="#089981" stroke-width="0.9" stroke-opacity="0.8"/>
<line x1="46.50" y1="101.8" x2="46.50" y2="105.6" stroke="#089981" stroke-width="0.9" stroke-opacity="0.8"/>
<rect x="45.03" y="100.7" width="2.5" height="1.10" fill="#089981"/>
<line x1="48.50" y1="99.5" x2="48.50" y2="100" stroke="#f23645" stroke-width="0.9" stroke-opacity="0.8"/>
<line x1="48.50" y1="110.6" x2="48.50" y2="113.75" stroke="#f23645" stroke-width="0.9" stroke-opacity="0.8"/>
<rect x="47.49" y="100" width="2.5" height="10.60" fill="#f23645"/>
<line x1="51.50" y1="101.5" x2="51.50" y2="104" stroke="#f23645" stroke-width="0.9" stroke-opacity="0.8"/>
<line x1="51.50" y1="105" x2="51.50" y2="111.5" stroke="#f23645" stroke-width="0.9" stroke-opacity="0.8"/>
<rect x="50.45" y="104" width="2.5" height="1.00" fill="#f23645"/>
<line x1="54.50" y1="71.5" x2="54.50" y2="74" stroke="#089981" stroke-width="0.9" stroke-opacity="0.8"/>
<rect x="53.41" y="74" width="2.5" height="38.00" fill="#089981"/>
<line x1="57.50" y1="49" x2="57.50" y2="50" stroke="#089981" stroke-width="0.9" stroke-opacity="0.8"/>
<line x1="57.50" y1="73.4" x2="57.50" y2="83.4" stroke="#089981" stroke-width="0.9" stroke-opacity="0.8"/>
<rect x="56.36" y="50" width="2.5" height="23.40" fill="#089981"/>
<line x1="60.50" y1="12.5" x2="60.50" y2="28" stroke="#089981" stroke-width="0.9" stroke-opacity="0.8"/>
<line x1="60.50" y1="34.4" x2="60.50" y2="42.5" stroke="#089981" stroke-width="0.9" stroke-opacity="0.8"/>
<rect x="59.32" y="28" width="2.5" height="6.40" fill="#089981"/>
<line x1="63.50" y1="27" x2="63.50" y2="30" stroke="#089981" stroke-width="0.9" stroke-opacity="0.8"/>
<line x1="63.50" y1="34.75" x2="63.50" y2="35" stroke="#089981" stroke-width="0.9" stroke-opacity="0.8"/>
<rect x="62.28" y="30" width="2.5" height="4.75" fill="#089981"/>
<line x1="66.50" y1="28" x2="66.50" y2="29" stroke="#f23645" stroke-width="0.9" stroke-opacity="0.8"/>
<line x1="66.50" y1="30" x2="66.50" y2="47.5" stroke="#f23645" stroke-width="0.9" stroke-opacity="0.8"/>
<rect x="65.23" y="29" width="2.5" height="1.00" fill="#f23645"/>
<line x1="69.50" y1="28.75" x2="69.50" y2="30" stroke="#f23645" stroke-width="0.9" stroke-opacity="0.8"/>
<line x1="69.50" y1="35.6" x2="69.50" y2="48" stroke="#f23645" stroke-width="0.9" stroke-opacity="0.8"/>
<rect x="68.19" y="30" width="2.5" height="5.60" fill="#f23645"/>
<line x1="72.50" y1="3.75" x2="72.50" y2="21.25" stroke="#089981" stroke-width="0.9" stroke-opacity="0.8"/>
<line x1="72.50" y1="36.25" x2="72.50" y2="37" stroke="#089981" stroke-width="0.9" stroke-opacity="0.8"/>
<rect x="71.15" y="21.25" width="2.5" height="15.00" fill="#089981"/>
<line x1="75.50" y1="12.5" x2="75.50" y2="20" stroke="#089981" stroke-width="0.9" stroke-opacity="0.8"/>
<line x1="75.50" y1="21.25" x2="75.50" y2="25" stroke="#089981" stroke-width="0.9" stroke-opacity="0.8"/>
<rect x="74.10" y="20" width="2.5" height="1.25" fill="#089981"/>
<line x1="78.50" y1="18.5" x2="78.50" y2="19.5" stroke="#f23645" stroke-width="0.9" stroke-opacity="0.8"/>
<line x1="78.50" y1="21" x2="78.50" y2="26" stroke="#f23645" stroke-width="0.9" stroke-opacity="0.8"/>
<rect x="77.06" y="19.5" width="2.5" height="1.50" fill="#f23645"/>
<line x1="81.50" y1="13.5" x2="81.50" y2="18" stroke="#f23645" stroke-width="0.9" stroke-opacity="0.8"/>
<line x1="81.50" y1="19" x2="81.50" y2="27" stroke="#f23645" stroke-width="0.9" stroke-opacity="0.8"/>
<rect x="80.02" y="18" width="2.5" height="1.00" fill="#f23645"/>
<line x1="83.50" y1="14" x2="83.50" y2="15" stroke="#089981" stroke-width="0.9" stroke-opacity="0.8"/>
<line x1="83.50" y1="25" x2="83.50" y2="38.75" stroke="#089981" stroke-width="0.9" stroke-opacity="0.8"/>
<rect x="82.47" y="15" width="2.5" height="10.00" fill="#089981"/>
<line x1="86.50" y1="15" x2="86.50" y2="16" stroke="#089981" stroke-width="0.9" stroke-opacity="0.8"/>
<rect x="85.43" y="-5" width="2.5" height="20.00" fill="#089981"/>
<line x1="110.50" y1="-10" x2="110.50" y2="-8" stroke="#089981" stroke-width="0.9" stroke-opacity="0.8"/>
<line x1="110.50" y1="-5" x2="110.50" y2="10.3" stroke="#089981" stroke-width="0.9" stroke-opacity="0.8"/>
<rect x="109.08" y="-8" width="2.5" height="3.00" fill="#089981"/>
<line x1="124.50" y1="-10" x2="124.50" y2="-8" stroke="#089981" stroke-width="0.9" stroke-opacity="0.8"/>
<line x1="124.50" y1="-5" x2="124.50" y2="4.7" stroke="#089981" stroke-width="0.9" stroke-opacity="0.8"/>
<rect x="123.37" y="-8" width="2.5" height="3.00" fill="#089981"/>
<line x1="133.50" y1="-10" x2="133.50" y2="-8" stroke="#8fd0c4" stroke-width="0.9" stroke-opacity="0.8"/>
<line x1="133.50" y1="-5" x2="133.50" y2="10.9" stroke="#8fd0c4" stroke-width="0.9" stroke-opacity="0.8"/>
<rect x="132.24" y="-8" width="2.5" height="3.00" fill="#8fd0c4"/>
<line x1="136.50" y1="-10" x2="136.50" y2="-5" stroke="#f23645" stroke-width="0.9" stroke-opacity="0.8"/>
<line x1="136.50" y1="2.8" x2="136.50" y2="8.4" stroke="#f23645" stroke-width="0.9" stroke-opacity="0.8"/>
<rect x="135.19" y="-5" width="2.5" height="7.80" fill="#f23645"/>
<line x1="139.50" y1="-2" x2="139.50" y2="0.6" stroke="#089981" stroke-width="0.9" stroke-opacity="0.8"/>
<line x1="139.50" y1="2.8" x2="139.50" y2="6.25" stroke="#089981" stroke-width="0.9" stroke-opacity="0.8"/>
<rect x="138.15" y="0.6" width="2.5" height="2.20" fill="#089981"/>
<line x1="142.50" y1="-5" x2="142.50" y2="-3" stroke="#f23645" stroke-width="0.9" stroke-opacity="0.8"/>
<rect x="141.11" y="-3" width="2.5" height="28.00" fill="#f23645"/>
<line x1="145.50" y1="17.5" x2="145.50" y2="25" stroke="#f23645" stroke-width="0.9" stroke-opacity="0.8"/>
<line x1="145.50" y1="38.75" x2="145.50" y2="39" stroke="#f23645" stroke-width="0.9" stroke-opacity="0.8"/>
<rect x="144.06" y="25" width="2.5" height="13.75" fill="#f23645"/>
<line x1="148.50" y1="23.75" x2="148.50" y2="26.25" stroke="#089981" stroke-width="0.9" stroke-opacity="0.8"/>
<line x1="148.50" y1="38.75" x2="148.50" y2="45.6" stroke="#089981" stroke-width="0.9" stroke-opacity="0.8"/>
<rect x="147.02" y="26.25" width="2.5" height="12.50" fill="#089981"/>
<line x1="150.50" y1="23.75" x2="150.50" y2="25.6" stroke="#f23645" stroke-width="0.9" stroke-opacity="0.8"/>
<line x1="150.50" y1="38.75" x2="150.50" y2="44.4" stroke="#f23645" stroke-width="0.9" stroke-opacity="0.8"/>
<rect x="149.48" y="25.6" width="2.5" height="13.15" fill="#f23645"/>
<line x1="153.50" y1="28.75" x2="153.50" y2="31.9" stroke="#089981" stroke-width="0.9" stroke-opacity="0.8"/>
<line x1="153.50" y1="38.75" x2="153.50" y2="43" stroke="#089981" stroke-width="0.9" stroke-opacity="0.8"/>
<rect x="152.43" y="31.9" width="2.5" height="6.85" fill="#089981"/>
<line x1="156.50" y1="26.25" x2="156.50" y2="31.9" stroke="#f23645" stroke-width="0.9" stroke-opacity="0.8"/>
<rect x="155.39" y="31.9" width="2.5" height="25.60" fill="#f23645"/>
<line x1="159.50" y1="51.25" x2="159.50" y2="56.9" stroke="#f23645" stroke-width="0.9" stroke-opacity="0.8"/>
<line x1="159.50" y1="74" x2="159.50" y2="76" stroke="#f23645" stroke-width="0.9" stroke-opacity="0.8"/>
<rect x="158.35" y="56.9" width="2.5" height="17.10" fill="#f23645"/>
<line x1="162.50" y1="69" x2="162.50" y2="70" stroke="#f23645" stroke-width="0.9" stroke-opacity="0.8"/>
<line x1="162.50" y1="76.9" x2="162.50" y2="85" stroke="#f23645" stroke-width="0.9" stroke-opacity="0.8"/>
<rect x="161.31" y="70" width="2.5" height="6.90" fill="#f23645"/>
<line x1="165.50" y1="60.5" x2="165.50" y2="61.25" stroke="#089981" stroke-width="0.9" stroke-opacity="0.8"/>
<line x1="165.50" y1="77.5" x2="165.50" y2="78" stroke="#089981" stroke-width="0.9" stroke-opacity="0.8"/>
<rect x="164.26" y="61.25" width="2.5" height="16.25" fill="#089981"/>
<line x1="168.50" y1="60" x2="168.50" y2="62" stroke="#f23645" stroke-width="0.9" stroke-opacity="0.8"/>
<line x1="168.50" y1="64.5" x2="168.50" y2="65" stroke="#f23645" stroke-width="0.9" stroke-opacity="0.8"/>
<rect x="167.22" y="62" width="2.5" height="2.50" fill="#f23645"/>
<line x1="171.50" y1="55" x2="171.50" y2="64.4" stroke="#f23645" stroke-width="0.9" stroke-opacity="0.8"/>
<line x1="171.50" y1="75.6" x2="171.50" y2="76" stroke="#f23645" stroke-width="0.9" stroke-opacity="0.8"/>
<rect x="170.18" y="64.4" width="2.5" height="11.20" fill="#f23645"/>
<line x1="174.50" y1="66.9" x2="174.50" y2="72.5" stroke="#089981" stroke-width="0.9" stroke-opacity="0.8"/>
<line x1="174.50" y1="75" x2="174.50" y2="80.6" stroke="#089981" stroke-width="0.9" stroke-opacity="0.8"/>
<rect x="173.13" y="72.5" width="2.5" height="2.50" fill="#089981"/>
<line x1="177.50" y1="51.9" x2="177.50" y2="60" stroke="#089981" stroke-width="0.9" stroke-opacity="0.8"/>
<line x1="177.50" y1="73" x2="177.50" y2="81.9" stroke="#089981" stroke-width="0.9" stroke-opacity="0.8"/>
<rect x="176.09" y="60" width="2.5" height="13.00" fill="#089981"/>
<line x1="180.50" y1="54.4" x2="180.50" y2="58.75" stroke="#089981" stroke-width="0.9" stroke-opacity="0.8"/>
<line x1="180.50" y1="60.6" x2="180.50" y2="65.6" stroke="#089981" stroke-width="0.9" stroke-opacity="0.8"/>
<rect x="179.05" y="58.75" width="2.5" height="1.85" fill="#089981"/>
<line x1="183.50" y1="50.3" x2="183.50" y2="54.1" stroke="#089981" stroke-width="0.9" stroke-opacity="0.8"/>
<line x1="183.50" y1="58.75" x2="183.50" y2="63" stroke="#089981" stroke-width="0.9" stroke-opacity="0.8"/>
<rect x="182.00" y="54.1" width="2.5" height="4.65" fill="#089981"/>
<line x1="185.50" y1="48" x2="185.50" y2="49.7" stroke="#089981" stroke-width="0.9" stroke-opacity="0.8"/>
<line x1="185.50" y1="54.4" x2="185.50" y2="58" stroke="#089981" stroke-width="0.9" stroke-opacity="0.8"/>
<rect x="184.46" y="49.7" width="2.5" height="4.70" fill="#089981"/>
<line x1="188.50" y1="46.25" x2="188.50" y2="48.75" stroke="#f23645" stroke-width="0.9" stroke-opacity="0.8"/>
<line x1="188.50" y1="61.9" x2="188.50" y2="62" stroke="#f23645" stroke-width="0.9" stroke-opacity="0.8"/>
<rect x="187.42" y="48.75" width="2.5" height="13.15" fill="#f23645"/>
<line x1="191.50" y1="53" x2="191.50" y2="55.6" stroke="#089981" stroke-width="0.9" stroke-opacity="0.8"/>
<line x1="191.50" y1="62.5" x2="191.50" y2="66.9" stroke="#089981" stroke-width="0.9" stroke-opacity="0.8"/>
<rect x="190.37" y="55.6" width="2.5" height="6.90" fill="#089981"/>
<line x1="194.50" y1="54.4" x2="194.50" y2="55.6" stroke="#f23645" stroke-width="0.9" stroke-opacity="0.8"/>
<line x1="194.50" y1="71.9" x2="194.50" y2="75.6" stroke="#f23645" stroke-width="0.9" stroke-opacity="0.8"/>
<rect x="193.33" y="55.6" width="2.5" height="16.30" fill="#f23645"/>
<line x1="197.50" y1="64.4" x2="197.50" y2="66.25" stroke="#089981" stroke-width="0.9" stroke-opacity="0.8"/>
<line x1="197.50" y1="71.25" x2="197.50" y2="73" stroke="#089981" stroke-width="0.9" stroke-opacity="0.8"/>
<rect x="196.29" y="66.25" width="2.5" height="5.00" fill="#089981"/>
<line x1="200.50" y1="65" x2="200.50" y2="66.25" stroke="#f23645" stroke-width="0.9" stroke-opacity="0.8"/>
<line x1="200.50" y1="68" x2="200.50" y2="69" stroke="#f23645" stroke-width="0.9" stroke-opacity="0.8"/>
<rect x="199.24" y="66.25" width="2.5" height="1.75" fill="#f23645"/>
<line x1="203.50" y1="67" x2="203.50" y2="68" stroke="#f23645" stroke-width="0.9" stroke-opacity="0.8"/>
<line x1="203.50" y1="76.9" x2="203.50" y2="77" stroke="#f23645" stroke-width="0.9" stroke-opacity="0.8"/>
<rect x="202.20" y="68" width="2.5" height="8.90" fill="#f23645"/>
<line x1="206.50" y1="70" x2="206.50" y2="76.25" stroke="#f23645" stroke-width="0.9" stroke-opacity="0.8"/>
<line x1="206.50" y1="81.9" x2="206.50" y2="82.5" stroke="#f23645" stroke-width="0.9" stroke-opacity="0.8"/>
<rect x="205.16" y="76.25" width="2.5" height="5.65" fill="#f23645"/>
<line x1="209.50" y1="60" x2="209.50" y2="63" stroke="#089981" stroke-width="0.9" stroke-opacity="0.8"/>
<line x1="209.50" y1="81.9" x2="209.50" y2="82" stroke="#089981" stroke-width="0.9" stroke-opacity="0.8"/>
<rect x="208.11" y="63" width="2.5" height="18.90" fill="#089981"/>
<line x1="212.50" y1="56.25" x2="212.50" y2="63" stroke="#f23645" stroke-width="0.9" stroke-opacity="0.8"/>
<line x1="212.50" y1="69.4" x2="212.50" y2="70" stroke="#f23645" stroke-width="0.9" stroke-opacity="0.8"/>
<rect x="211.07" y="63" width="2.5" height="6.40" fill="#f23645"/>
<line x1="215.50" y1="69" x2="215.50" y2="69.4" stroke="#f9a9b0" stroke-width="0.9" stroke-opacity="0.8"/>
<line x1="215.50" y1="83" x2="215.50" y2="85.6" stroke="#f9a9b0" stroke-width="0.9" stroke-opacity="0.8"/>
<rect x="214.03" y="69.4" width="2.5" height="13.60" fill="#f9a9b0"/>
<line x1="217.50" y1="76.9" x2="217.50" y2="80" stroke="#089981" stroke-width="0.9" stroke-opacity="0.8"/>
<line x1="217.50" y1="83" x2="217.50" y2="91.25" stroke="#089981" stroke-width="0.9" stroke-opacity="0.8"/>
<rect x="216.48" y="80" width="2.5" height="3.00" fill="#089981"/>
<line x1="220.50" y1="69.4" x2="220.50" y2="71.25" stroke="#089981" stroke-width="0.9" stroke-opacity="0.8"/>
<line x1="220.50" y1="80" x2="220.50" y2="80.5" stroke="#089981" stroke-width="0.9" stroke-opacity="0.8"/>
<rect x="219.44" y="71.25" width="2.5" height="8.75" fill="#089981"/>
<line x1="223.50" y1="71" x2="223.50" y2="71.9" stroke="#f23645" stroke-width="0.9" stroke-opacity="0.8"/>
<line x1="223.50" y1="75.6" x2="223.50" y2="78.75" stroke="#f23645" stroke-width="0.9" stroke-opacity="0.8"/>
<rect x="222.40" y="71.9" width="2.5" height="3.70" fill="#f23645"/>
<line x1="226.50" y1="63" x2="226.50" y2="63.75" stroke="#089981" stroke-width="0.9" stroke-opacity="0.8"/>
<line x1="226.50" y1="75.6" x2="226.50" y2="78.75" stroke="#089981" stroke-width="0.9" stroke-opacity="0.8"/>
<rect x="225.35" y="63.75" width="2.5" height="11.85" fill="#089981"/>
<line x1="229.50" y1="54.4" x2="229.50" y2="59.4" stroke="#089981" stroke-width="0.9" stroke-opacity="0.8"/>
<line x1="229.50" y1="64.4" x2="229.50" y2="66.9" stroke="#089981" stroke-width="0.9" stroke-opacity="0.8"/>
<rect x="228.31" y="59.4" width="2.5" height="5.00" fill="#089981"/>
<line x1="232.50" y1="55.6" x2="232.50" y2="58.75" stroke="#f23645" stroke-width="0.9" stroke-opacity="0.8"/>
<line x1="232.50" y1="60" x2="232.50" y2="60.6" stroke="#f23645" stroke-width="0.9" stroke-opacity="0.8"/>
<rect x="231.27" y="58.75" width="2.5" height="1.25" fill="#f23645"/>
<line x1="235.50" y1="52.5" x2="235.50" y2="55" stroke="#089981" stroke-width="0.9" stroke-opacity="0.8"/>
<line x1="235.50" y1="61.9" x2="235.50" y2="63.75" stroke="#089981" stroke-width="0.9" stroke-opacity="0.8"/>
<rect x="234.22" y="55" width="2.5" height="6.90" fill="#089981"/>
<line x1="238.50" y1="49" x2="238.50" y2="49.4" stroke="#089981" stroke-width="0.9" stroke-opacity="0.8"/>
<line x1="238.50" y1="55" x2="238.50" y2="60.6" stroke="#089981" stroke-width="0.9" stroke-opacity="0.8"/>
<rect x="237.18" y="49.4" width="2.5" height="5.60" fill="#089981"/>
<line x1="241.50" y1="26.9" x2="241.50" y2="31.9" stroke="#089981" stroke-width="0.9" stroke-opacity="0.8"/>
<line x1="241.50" y1="49.4" x2="241.50" y2="50" stroke="#089981" stroke-width="0.9" stroke-opacity="0.8"/>
<rect x="240.14" y="31.9" width="2.5" height="17.50" fill="#089981"/>
<line x1="244.50" y1="5" x2="244.50" y2="5.9" stroke="#089981" stroke-width="0.9" stroke-opacity="0.8"/>
<line x1="244.50" y1="31.9" x2="244.50" y2="35" stroke="#089981" stroke-width="0.9" stroke-opacity="0.8"/>
<rect x="243.09" y="5.9" width="2.5" height="26.00" fill="#089981"/>
<line x1="247.50" y1="2" x2="247.50" y2="3" stroke="#089981" stroke-width="0.9" stroke-opacity="0.8"/>
<line x1="247.50" y1="5.6" x2="247.50" y2="11" stroke="#089981" stroke-width="0.9" stroke-opacity="0.8"/>
<rect x="246.05" y="3" width="2.5" height="2.60" fill="#089981"/>
<line x1="250.50" y1="-3" x2="250.50" y2="-2" stroke="#089981" stroke-width="0.9" stroke-opacity="0.8"/>
<line x1="250.50" y1="3" x2="250.50" y2="4" stroke="#089981" stroke-width="0.9" stroke-opacity="0.8"/>
<rect x="249.01" y="-2" width="2.5" height="5.00" fill="#089981"/>
<line x1="252.50" y1="-3" x2="252.50" y2="-2" stroke="#f23645" stroke-width="0.9" stroke-opacity="0.8"/>
<line x1="252.50" y1="4.4" x2="252.50" y2="10" stroke="#f23645" stroke-width="0.9" stroke-opacity="0.8"/>
<rect x="251.46" y="-2" width="2.5" height="6.40" fill="#f23645"/>
<line x1="255.50" y1="0" x2="255.50" y2="3" stroke="#089981" stroke-width="0.9" stroke-opacity="0.8"/>
<line x1="255.50" y1="5" x2="255.50" y2="6" stroke="#089981" stroke-width="0.9" stroke-opacity="0.8"/>
<rect x="254.42" y="3" width="2.5" height="2.00" fill="#089981"/>
<line x1="258.50" y1="-3" x2="258.50" y2="-2" stroke="#089981" stroke-width="0.9" stroke-opacity="0.8"/>
<line x1="258.50" y1="3.75" x2="258.50" y2="8" stroke="#089981" stroke-width="0.9" stroke-opacity="0.8"/>
<rect x="257.38" y="-2" width="2.5" height="5.75" fill="#089981"/>
<line x1="261.50" y1="-3" x2="261.50" y2="-2" stroke="#f23645" stroke-width="0.9" stroke-opacity="0.8"/>
<line x1="261.50" y1="4.4" x2="261.50" y2="11.9" stroke="#f23645" stroke-width="0.9" stroke-opacity="0.8"/>
<rect x="260.33" y="-2" width="2.5" height="6.40" fill="#f23645"/>
<line x1="264.50" y1="3" x2="264.50" y2="3.75" stroke="#f23645" stroke-width="0.9" stroke-opacity="0.8"/>
<line x1="264.50" y1="11.9" x2="264.50" y2="12" stroke="#f23645" stroke-width="0.9" stroke-opacity="0.8"/>
<rect x="263.29" y="3.75" width="2.5" height="8.15" fill="#f23645"/>
<line x1="267.50" y1="10" x2="267.50" y2="10.6" stroke="#f23645" stroke-width="0.9" stroke-opacity="0.8"/>
<line x1="267.50" y1="11.9" x2="267.50" y2="16.25" stroke="#f23645" stroke-width="0.9" stroke-opacity="0.8"/>
<rect x="266.25" y="10.6" width="2.5" height="1.30" fill="#f23645"/>
<line x1="270.50" y1="7.5" x2="270.50" y2="10" stroke="#089981" stroke-width="0.9" stroke-opacity="0.8"/>
<line x1="270.50" y1="11.9" x2="270.50" y2="16.9" stroke="#089981" stroke-width="0.9" stroke-opacity="0.8"/>
<rect x="269.20" y="10" width="2.5" height="1.90" fill="#089981"/>
<line x1="273.50" y1="-3" x2="273.50" y2="-2" stroke="#089981" stroke-width="0.9" stroke-opacity="0.8"/>
<line x1="273.50" y1="9.4" x2="273.50" y2="10" stroke="#089981" stroke-width="0.9" stroke-opacity="0.8"/>
<rect x="272.16" y="-2" width="2.5" height="11.40" fill="#089981"/>
<line x1="276.50" y1="-3" x2="276.50" y2="-2" stroke="#f23645" stroke-width="0.9" stroke-opacity="0.8"/>
<line x1="276.50" y1="3.75" x2="276.50" y2="4" stroke="#f23645" stroke-width="0.9" stroke-opacity="0.8"/>
<rect x="275.12" y="-2" width="2.5" height="5.75" fill="#f23645"/>
<line x1="279.50" y1="-3" x2="279.50" y2="-2" stroke="#f23645" stroke-width="0.9" stroke-opacity="0.8"/>
<line x1="279.50" y1="31.9" x2="279.50" y2="48.75" stroke="#f23645" stroke-width="0.9" stroke-opacity="0.8"/>
<rect x="278.07" y="-2" width="2.5" height="33.90" fill="#f23645"/>
<line x1="282.50" y1="11.9" x2="282.50" y2="18" stroke="#089981" stroke-width="0.9" stroke-opacity="0.8"/>
<line x1="282.50" y1="31.9" x2="282.50" y2="38" stroke="#089981" stroke-width="0.9" stroke-opacity="0.8"/>
<rect x="281.03" y="18" width="2.5" height="13.90" fill="#089981"/>
<line x1="284.50" y1="13.75" x2="284.50" y2="17.5" stroke="#f23645" stroke-width="0.9" stroke-opacity="0.8"/>
<line x1="284.50" y1="26.25" x2="284.50" y2="27" stroke="#f23645" stroke-width="0.9" stroke-opacity="0.8"/>
<rect x="283.49" y="17.5" width="2.5" height="8.75" fill="#f23645"/>
<line x1="287.50" y1="18.75" x2="287.50" y2="20" stroke="#089981" stroke-width="0.9" stroke-opacity="0.8"/>
<line x1="287.50" y1="26.25" x2="287.50" y2="28.75" stroke="#089981" stroke-width="0.9" stroke-opacity="0.8"/>
<rect x="286.45" y="20" width="2.5" height="6.25" fill="#089981"/>
<line x1="290.50" y1="18" x2="290.50" y2="20" stroke="#f23645" stroke-width="0.9" stroke-opacity="0.8"/>
<line x1="290.50" y1="30" x2="290.50" y2="33.75" stroke="#f23645" stroke-width="0.9" stroke-opacity="0.8"/>
<rect x="289.40" y="20" width="2.5" height="10.00" fill="#f23645"/>
<line x1="293.50" y1="15.5" x2="293.50" y2="16.25" stroke="#089981" stroke-width="0.9" stroke-opacity="0.8"/>
<line x1="293.50" y1="30" x2="293.50" y2="37.5" stroke="#089981" stroke-width="0.9" stroke-opacity="0.8"/>
<rect x="292.36" y="16.25" width="2.5" height="13.75" fill="#089981"/>
<line x1="296.50" y1="16" x2="296.50" y2="16.5" stroke="#f23645" stroke-width="0.9" stroke-opacity="0.8"/>
<line x1="296.50" y1="18" x2="296.50" y2="28" stroke="#f23645" stroke-width="0.9" stroke-opacity="0.8"/>
<rect x="295.32" y="16.5" width="2.5" height="1.50" fill="#f23645"/>
<line x1="299.50" y1="14.4" x2="299.50" y2="17.5" stroke="#f23645" stroke-width="0.9" stroke-opacity="0.8"/>
<line x1="299.50" y1="30" x2="299.50" y2="33" stroke="#f23645" stroke-width="0.9" stroke-opacity="0.8"/>
<rect x="298.27" y="17.5" width="2.5" height="12.50" fill="#f23645"/>
<line x1="302.50" y1="25.6" x2="302.50" y2="26.25" stroke="#089981" stroke-width="0.9" stroke-opacity="0.8"/>
<line x1="302.50" y1="30" x2="302.50" y2="35" stroke="#089981" stroke-width="0.9" stroke-opacity="0.8"/>
<rect x="301.23" y="26.25" width="2.5" height="3.75" fill="#089981"/>
<line x1="305.50" y1="27" x2="305.50" y2="28" stroke="#f23645" stroke-width="0.9" stroke-opacity="0.8"/>
<line x1="305.50" y1="30.5" x2="305.50" y2="31" stroke="#f23645" stroke-width="0.9" stroke-opacity="0.8"/>
<rect x="304.19" y="28" width="2.5" height="2.50" fill="#f23645"/>
<line x1="308.50" y1="25.6" x2="308.50" y2="28" stroke="#f23645" stroke-width="0.9" stroke-opacity="0.8"/>
<line x1="308.50" y1="33.75" x2="308.50" y2="34" stroke="#f23645" stroke-width="0.9" stroke-opacity="0.8"/>
<rect x="307.14" y="28" width="2.5" height="5.75" fill="#f23645"/>
<line x1="311.50" y1="29.4" x2="311.50" y2="32.25" stroke="#089981" stroke-width="0.9" stroke-opacity="0.8"/>
<line x1="311.50" y1="33.75" x2="311.50" y2="39.4" stroke="#089981" stroke-width="0.9" stroke-opacity="0.8"/>
<rect x="310.10" y="32.25" width="2.5" height="1.50" fill="#089981"/>
<line x1="314.50" y1="17.5" x2="314.50" y2="24.4" stroke="#089981" stroke-width="0.9" stroke-opacity="0.8"/>
<line x1="314.50" y1="32.5" x2="314.50" y2="36.25" stroke="#089981" stroke-width="0.9" stroke-opacity="0.8"/>
<rect x="313.06" y="24.4" width="2.5" height="8.10" fill="#089981"/>
<line x1="317.50" y1="18.75" x2="317.50" y2="24.4" stroke="#8fd0c4" stroke-width="0.9" stroke-opacity="0.8"/>
<line x1="317.50" y1="27" x2="317.50" y2="40" stroke="#8fd0c4" stroke-width="0.9" stroke-opacity="0.8"/>
<rect x="316.01" y="24.4" width="2.5" height="2.60" fill="#8fd0c4"/>
<line x1="319.50" y1="20" x2="319.50" y2="24.4" stroke="#f23645" stroke-width="0.9" stroke-opacity="0.8"/>
<line x1="319.50" y1="26.9" x2="319.50" y2="27.5" stroke="#f23645" stroke-width="0.9" stroke-opacity="0.8"/>
<rect x="318.47" y="24.4" width="2.5" height="2.50" fill="#f23645"/>
<line x1="322.50" y1="22.5" x2="322.50" y2="25.6" stroke="#f23645" stroke-width="0.9" stroke-opacity="0.8"/>
<line x1="322.50" y1="30" x2="322.50" y2="32.5" stroke="#f23645" stroke-width="0.9" stroke-opacity="0.8"/>
<rect x="321.43" y="25.6" width="2.5" height="4.40" fill="#f23645"/>
<line x1="325.50" y1="27" x2="325.50" y2="28" stroke="#f23645" stroke-width="0.9" stroke-opacity="0.8"/>
<line x1="325.50" y1="30" x2="325.50" y2="31" stroke="#f23645" stroke-width="0.9" stroke-opacity="0.8"/>
<rect x="324.38" y="28" width="2.5" height="2.00" fill="#f23645"/>
<line x1="328.50" y1="26.25" x2="328.50" y2="28" stroke="#089981" stroke-width="0.9" stroke-opacity="0.8"/>
<line x1="328.50" y1="29.4" x2="328.50" y2="35" stroke="#089981" stroke-width="0.9" stroke-opacity="0.8"/>
<rect x="327.34" y="28" width="2.5" height="1.40" fill="#089981"/>
<line x1="331.50" y1="29" x2="331.50" y2="29.4" stroke="#f23645" stroke-width="0.9" stroke-opacity="0.8"/>
<line x1="331.50" y1="36.25" x2="331.50" y2="39.4" stroke="#f23645" stroke-width="0.9" stroke-opacity="0.8"/>
<rect x="330.30" y="29.4" width="2.5" height="6.85" fill="#f23645"/>
<line x1="334.50" y1="31.9" x2="334.50" y2="35.6" stroke="#f23645" stroke-width="0.9" stroke-opacity="0.8"/>
<line x1="334.50" y1="40.6" x2="334.50" y2="41" stroke="#f23645" stroke-width="0.9" stroke-opacity="0.8"/>
<rect x="333.25" y="35.6" width="2.5" height="5.00" fill="#f23645"/>
<line x1="337.50" y1="36.25" x2="337.50" y2="38" stroke="#089981" stroke-width="0.9" stroke-opacity="0.8"/>
<line x1="337.50" y1="40.6" x2="337.50" y2="41" stroke="#089981" stroke-width="0.9" stroke-opacity="0.8"/>
<rect x="336.21" y="38" width="2.5" height="2.60" fill="#089981"/>
<line x1="340.50" y1="37.5" x2="340.50" y2="38" stroke="#f23645" stroke-width="0.9" stroke-opacity="0.8"/>
<line x1="340.50" y1="42.5" x2="340.50" y2="44.4" stroke="#f23645" stroke-width="0.9" stroke-opacity="0.8"/>
<rect x="339.17" y="38" width="2.5" height="4.50" fill="#f23645"/>
<line x1="343.50" y1="42" x2="343.50" y2="42.5" stroke="#f23645" stroke-width="0.9" stroke-opacity="0.8"/>
<line x1="343.50" y1="44.4" x2="343.50" y2="47.5" stroke="#f23645" stroke-width="0.9" stroke-opacity="0.8"/>
<rect x="342.12" y="42.5" width="2.5" height="1.90" fill="#f23645"/>
<line x1="346.50" y1="39.4" x2="346.50" y2="41.25" stroke="#089981" stroke-width="0.9" stroke-opacity="0.8"/>
<line x1="346.50" y1="44.4" x2="346.50" y2="52.5" stroke="#089981" stroke-width="0.9" stroke-opacity="0.8"/>
<rect x="345.08" y="41.25" width="2.5" height="3.15" fill="#089981"/>
<line x1="349.50" y1="40.5" x2="349.50" y2="41.25" stroke="#f23645" stroke-width="0.9" stroke-opacity="0.8"/>
<line x1="349.50" y1="56.9" x2="349.50" y2="60" stroke="#f23645" stroke-width="0.9" stroke-opacity="0.8"/>
<rect x="348.04" y="41.25" width="2.5" height="15.65" fill="#f23645"/>
<line x1="351.50" y1="45" x2="351.50" y2="45.6" stroke="#089981" stroke-width="0.9" stroke-opacity="0.8"/>
<line x1="351.50" y1="56.25" x2="351.50" y2="66.9" stroke="#089981" stroke-width="0.9" stroke-opacity="0.8"/>
<rect x="350.49" y="45.6" width="2.5" height="10.65" fill="#089981"/>
<line x1="354.50" y1="36" x2="354.50" y2="36.9" stroke="#089981" stroke-width="0.9" stroke-opacity="0.8"/>
<line x1="354.50" y1="45.6" x2="354.50" y2="46" stroke="#089981" stroke-width="0.9" stroke-opacity="0.8"/>
<rect x="353.45" y="36.9" width="2.5" height="8.70" fill="#089981"/>
<line x1="357.50" y1="34.4" x2="357.50" y2="36.9" stroke="#f23645" stroke-width="0.9" stroke-opacity="0.8"/>
<line x1="357.50" y1="42.5" x2="357.50" y2="43" stroke="#f23645" stroke-width="0.9" stroke-opacity="0.8"/>
<rect x="356.41" y="36.9" width="2.5" height="5.60" fill="#f23645"/>
<line x1="360.50" y1="40" x2="360.50" y2="41" stroke="#f23645" stroke-width="0.9" stroke-opacity="0.8"/>
<line x1="360.50" y1="43.75" x2="360.50" y2="44" stroke="#f23645" stroke-width="0.9" stroke-opacity="0.8"/>
<rect x="359.36" y="41" width="2.5" height="2.75" fill="#f23645"/>
<line x1="363.50" y1="42" x2="363.50" y2="42.5" stroke="#f23645" stroke-width="0.9" stroke-opacity="0.8"/>
<line x1="363.50" y1="48" x2="363.50" y2="51.9" stroke="#f23645" stroke-width="0.9" stroke-opacity="0.8"/>
<rect x="362.32" y="42.5" width="2.5" height="5.50" fill="#f23645"/>
<line x1="366.50" y1="40" x2="366.50" y2="47.5" stroke="#f23645" stroke-width="0.9" stroke-opacity="0.8"/>
<line x1="366.50" y1="55.6" x2="366.50" y2="56" stroke="#f23645" stroke-width="0.9" stroke-opacity="0.8"/>
<rect x="365.28" y="47.5" width="2.5" height="8.10" fill="#f23645"/>
<line x1="369.50" y1="52.5" x2="369.50" y2="55" stroke="#f23645" stroke-width="0.9" stroke-opacity="0.8"/>
<line x1="369.50" y1="66.9" x2="369.50" y2="68" stroke="#f23645" stroke-width="0.9" stroke-opacity="0.8"/>
<rect x="368.23" y="55" width="2.5" height="11.90" fill="#f23645"/>
<line x1="372.50" y1="65" x2="372.50" y2="66.25" stroke="#f23645" stroke-width="0.9" stroke-opacity="0.8"/>
<line x1="372.50" y1="80.6" x2="372.50" y2="81" stroke="#f23645" stroke-width="0.9" stroke-opacity="0.8"/>
<rect x="371.19" y="66.25" width="2.5" height="14.35" fill="#f23645"/>
<line x1="375.50" y1="72" x2="375.50" y2="73" stroke="#089981" stroke-width="0.9" stroke-opacity="0.8"/>
<line x1="375.50" y1="80" x2="375.50" y2="80.5" stroke="#089981" stroke-width="0.9" stroke-opacity="0.8"/>
<rect x="374.15" y="73" width="2.5" height="7.00" fill="#089981"/>
<line x1="378.50" y1="72.5" x2="378.50" y2="73" stroke="#f23645" stroke-width="0.9" stroke-opacity="0.8"/>
<line x1="378.50" y1="75.6" x2="378.50" y2="78.75" stroke="#f23645" stroke-width="0.9" stroke-opacity="0.8"/>
<rect x="377.10" y="73" width="2.5" height="2.60" fill="#f23645"/>
<line x1="381.50" y1="65.6" x2="381.50" y2="70" stroke="#089981" stroke-width="0.9" stroke-opacity="0.8"/>
<line x1="381.50" y1="75.6" x2="381.50" y2="76" stroke="#089981" stroke-width="0.9" stroke-opacity="0.8"/>
<rect x="380.06" y="70" width="2.5" height="5.60" fill="#089981"/>
<line x1="384.50" y1="69.5" x2="384.50" y2="70.3" stroke="#f23645" stroke-width="0.9" stroke-opacity="0.8"/>
<line x1="384.50" y1="91.9" x2="384.50" y2="100" stroke="#f23645" stroke-width="0.9" stroke-opacity="0.8"/>
<rect x="383.02" y="70.3" width="2.5" height="21.60" fill="#f23645"/>
<line x1="386.50" y1="85.3" x2="386.50" y2="88" stroke="#8fd0c4" stroke-width="0.9" stroke-opacity="0.8"/>
<line x1="386.50" y1="91.25" x2="386.50" y2="105.6" stroke="#8fd0c4" stroke-width="0.9" stroke-opacity="0.8"/>
<rect x="385.47" y="88" width="2.5" height="3.25" fill="#8fd0c4"/>
<line x1="389.50" y1="83" x2="389.50" y2="88" stroke="#089981" stroke-width="0.9" stroke-opacity="0.8"/>
<line x1="389.50" y1="91.25" x2="389.50" y2="95" stroke="#089981" stroke-width="0.9" stroke-opacity="0.8"/>
<rect x="388.43" y="88" width="2.5" height="3.25" fill="#089981"/>
<line x1="392.50" y1="85" x2="392.50" y2="88" stroke="#f23645" stroke-width="0.9" stroke-opacity="0.8"/>
<line x1="392.50" y1="95.6" x2="392.50" y2="97.5" stroke="#f23645" stroke-width="0.9" stroke-opacity="0.8"/>
<rect x="391.39" y="88" width="2.5" height="7.60" fill="#f23645"/>
<line x1="395.50" y1="95" x2="395.50" y2="95.6" stroke="#f23645" stroke-width="0.9" stroke-opacity="0.8"/>
<line x1="395.50" y1="97.5" x2="395.50" y2="100.6" stroke="#f23645" stroke-width="0.9" stroke-opacity="0.8"/>
<rect x="394.35" y="95.6" width="2.5" height="1.90" fill="#f23645"/>
<line x1="398.50" y1="90" x2="398.50" y2="90.6" stroke="#089981" stroke-width="0.9" stroke-opacity="0.8"/>
<line x1="398.50" y1="97.5" x2="398.50" y2="104.4" stroke="#089981" stroke-width="0.9" stroke-opacity="0.8"/>
<rect x="397.30" y="90.6" width="2.5" height="6.90" fill="#089981"/>
<line x1="401.50" y1="80.6" x2="401.50" y2="89.4" stroke="#089981" stroke-width="0.9" stroke-opacity="0.8"/>
<line x1="401.50" y1="90.6" x2="401.50" y2="96.25" stroke="#089981" stroke-width="0.9" stroke-opacity="0.8"/>
<rect x="400.26" y="89.4" width="2.5" height="1.20" fill="#089981"/>
<line x1="404.50" y1="65.3" x2="404.50" y2="82.5" stroke="#089981" stroke-width="0.9" stroke-opacity="0.8"/>
<line x1="404.50" y1="89.4" x2="404.50" y2="97.5" stroke="#089981" stroke-width="0.9" stroke-opacity="0.8"/>
<rect x="403.22" y="82.5" width="2.5" height="6.90" fill="#089981"/>
<line x1="407.50" y1="71.25" x2="407.50" y2="82" stroke="#089981" stroke-width="0.9" stroke-opacity="0.8"/>
<line x1="407.50" y1="83.2" x2="407.50" y2="84" stroke="#089981" stroke-width="0.9" stroke-opacity="0.8"/>
<rect x="406.17" y="82" width="2.5" height="1.20" fill="#089981"/>
<line x1="410.50" y1="48.75" x2="410.50" y2="53.75" stroke="#089981" stroke-width="0.9" stroke-opacity="0.8"/>
<line x1="410.50" y1="73" x2="410.50" y2="74.4" stroke="#089981" stroke-width="0.9" stroke-opacity="0.8"/>
<rect x="409.13" y="53.75" width="2.5" height="19.25" fill="#089981"/>
<line x1="413.50" y1="51.25" x2="413.50" y2="53.75" stroke="#f23645" stroke-width="0.9" stroke-opacity="0.8"/>
<line x1="413.50" y1="58.75" x2="413.50" y2="59" stroke="#f23645" stroke-width="0.9" stroke-opacity="0.8"/>
<rect x="412.09" y="53.75" width="2.5" height="5.00" fill="#f23645"/>
<line x1="416.50" y1="49.4" x2="416.50" y2="58" stroke="#f23645" stroke-width="0.9" stroke-opacity="0.8"/>
<line x1="416.50" y1="70" x2="416.50" y2="70.5" stroke="#f23645" stroke-width="0.9" stroke-opacity="0.8"/>
<rect x="415.04" y="58" width="2.5" height="12.00" fill="#f23645"/>
<line x1="418.50" y1="69.5" x2="418.50" y2="70" stroke="#f23645" stroke-width="0.9" stroke-opacity="0.8"/>
<line x1="418.50" y1="72.6" x2="418.50" y2="85" stroke="#f23645" stroke-width="0.9" stroke-opacity="0.8"/>
<rect x="417.50" y="70" width="2.5" height="2.60" fill="#f23645"/>
<line x1="421.50" y1="64.4" x2="421.50" y2="70.6" stroke="#089981" stroke-width="0.9" stroke-opacity="0.8"/>
<line x1="421.50" y1="73" x2="421.50" y2="73.5" stroke="#089981" stroke-width="0.9" stroke-opacity="0.8"/>
<rect x="420.46" y="70.6" width="2.5" height="2.40" fill="#089981"/>
<line x1="424.50" y1="70" x2="424.50" y2="70.6" stroke="#f23645" stroke-width="0.9" stroke-opacity="0.8"/>
<line x1="424.50" y1="78.1" x2="424.50" y2="79" stroke="#f23645" stroke-width="0.9" stroke-opacity="0.8"/>
<rect x="423.41" y="70.6" width="2.5" height="7.50" fill="#f23645"/>
<line x1="427.50" y1="76" x2="427.50" y2="76.5" stroke="#f23645" stroke-width="0.9" stroke-opacity="0.8"/>
<line x1="427.50" y1="81.9" x2="427.50" y2="87.5" stroke="#f23645" stroke-width="0.9" stroke-opacity="0.8"/>
<rect x="426.37" y="76.5" width="2.5" height="5.40" fill="#f23645"/>
<line x1="430.50" y1="78.75" x2="430.50" y2="80.6" stroke="#f23645" stroke-width="0.9" stroke-opacity="0.8"/>
<line x1="430.50" y1="83" x2="430.50" y2="89.7" stroke="#f23645" stroke-width="0.9" stroke-opacity="0.8"/>
<rect x="429.33" y="80.6" width="2.5" height="2.40" fill="#f23645"/>
<line x1="433.50" y1="74.7" x2="433.50" y2="78" stroke="#089981" stroke-width="0.9" stroke-opacity="0.8"/>
<line x1="433.50" y1="83" x2="433.50" y2="86.9" stroke="#089981" stroke-width="0.9" stroke-opacity="0.8"/>
<rect x="432.28" y="78" width="2.5" height="5.00" fill="#089981"/>
<line x1="436.50" y1="77.5" x2="436.50" y2="78" stroke="#f23645" stroke-width="0.9" stroke-opacity="0.8"/>
<line x1="436.50" y1="87.5" x2="436.50" y2="89.4" stroke="#f23645" stroke-width="0.9" stroke-opacity="0.8"/>
<rect x="435.24" y="78" width="2.5" height="9.50" fill="#f23645"/>
<line x1="439.50" y1="76.25" x2="439.50" y2="78.75" stroke="#089981" stroke-width="0.9" stroke-opacity="0.8"/>
<line x1="439.50" y1="86.9" x2="439.50" y2="90.6" stroke="#089981" stroke-width="0.9" stroke-opacity="0.8"/>
<rect x="438.20" y="78.75" width="2.5" height="8.15" fill="#089981"/>
<line x1="442.50" y1="78.75" x2="442.50" y2="79.4" stroke="#f23645" stroke-width="0.9" stroke-opacity="0.8"/>
<line x1="442.50" y1="86.25" x2="442.50" y2="87" stroke="#f23645" stroke-width="0.9" stroke-opacity="0.8"/>
<rect x="441.15" y="79.4" width="2.5" height="6.85" fill="#f23645"/>
<line x1="445.50" y1="82" x2="445.50" y2="83" stroke="#089981" stroke-width="0.9" stroke-opacity="0.8"/>
<line x1="445.50" y1="86.25" x2="445.50" y2="87" stroke="#089981" stroke-width="0.9" stroke-opacity="0.8"/>
<rect x="444.11" y="83" width="2.5" height="3.25" fill="#089981"/>
<line x1="448.50" y1="66.5" x2="448.50" y2="69.4" stroke="#089981" stroke-width="0.9" stroke-opacity="0.8"/>
<line x1="448.50" y1="83.75" x2="448.50" y2="84" stroke="#089981" stroke-width="0.9" stroke-opacity="0.8"/>
<rect x="447.07" y="69.4" width="2.5" height="14.35" fill="#089981"/>
<line x1="451.50" y1="65.3" x2="451.50" y2="69.4" stroke="#f23645" stroke-width="0.9" stroke-opacity="0.8"/>
<line x1="451.50" y1="77.5" x2="451.50" y2="78" stroke="#f23645" stroke-width="0.9" stroke-opacity="0.8"/>
<rect x="450.02" y="69.4" width="2.5" height="8.10" fill="#f23645"/>
<line x1="453.50" y1="75.6" x2="453.50" y2="77.5" stroke="#f23645" stroke-width="0.9" stroke-opacity="0.8"/>
<line x1="453.50" y1="86.25" x2="453.50" y2="87.5" stroke="#f23645" stroke-width="0.9" stroke-opacity="0.8"/>
<rect x="452.48" y="77.5" width="2.5" height="8.75" fill="#f23645"/>
<line x1="456.50" y1="61.5" x2="456.50" y2="65.2" stroke="#089981" stroke-width="0.9" stroke-opacity="0.8"/>
<line x1="456.50" y1="86" x2="456.50" y2="86.5" stroke="#089981" stroke-width="0.9" stroke-opacity="0.8"/>
<rect x="455.44" y="65.2" width="2.5" height="20.80" fill="#089981"/>
<line x1="459.50" y1="61.9" x2="459.50" y2="63" stroke="#089981" stroke-width="0.9" stroke-opacity="0.8"/>
<line x1="459.50" y1="65.6" x2="459.50" y2="68.1" stroke="#089981" stroke-width="0.9" stroke-opacity="0.8"/>
<rect x="458.39" y="63" width="2.5" height="2.60" fill="#089981"/>
<line x1="462.50" y1="51.9" x2="462.50" y2="53.75" stroke="#089981" stroke-width="0.9" stroke-opacity="0.8"/>
<line x1="462.50" y1="64.4" x2="462.50" y2="65" stroke="#089981" stroke-width="0.9" stroke-opacity="0.8"/>
<rect x="461.35" y="53.75" width="2.5" height="10.65" fill="#089981"/>
<line x1="465.50" y1="51.9" x2="465.50" y2="53.75" stroke="#f23645" stroke-width="0.9" stroke-opacity="0.8"/>
<line x1="465.50" y1="58" x2="465.50" y2="61.9" stroke="#f23645" stroke-width="0.9" stroke-opacity="0.8"/>
<rect x="464.31" y="53.75" width="2.5" height="4.25" fill="#f23645"/>
<line x1="468.50" y1="55.6" x2="468.50" y2="58" stroke="#f23645" stroke-width="0.9" stroke-opacity="0.8"/>
<line x1="468.50" y1="71" x2="468.50" y2="71.5" stroke="#f23645" stroke-width="0.9" stroke-opacity="0.8"/>
<rect x="467.26" y="58" width="2.5" height="13.00" fill="#f23645"/>
<line x1="471.50" y1="60" x2="471.50" y2="65.6" stroke="#089981" stroke-width="0.9" stroke-opacity="0.8"/>
<line x1="471.50" y1="71.25" x2="471.50" y2="73.5" stroke="#089981" stroke-width="0.9" stroke-opacity="0.8"/>
<rect x="470.22" y="65.6" width="2.5" height="5.65" fill="#089981"/>
<line x1="474.50" y1="60" x2="474.50" y2="65.6" stroke="#f23645" stroke-width="0.9" stroke-opacity="0.8"/>
<line x1="474.50" y1="85.6" x2="474.50" y2="86" stroke="#f23645" stroke-width="0.9" stroke-opacity="0.8"/>
<rect x="473.18" y="65.6" width="2.5" height="20.00" fill="#f23645"/>
<line x1="477.50" y1="68.75" x2="477.50" y2="71.6" stroke="#089981" stroke-width="0.9" stroke-opacity="0.8"/>
<line x1="477.50" y1="85.6" x2="477.50" y2="86" stroke="#089981" stroke-width="0.9" stroke-opacity="0.8"/>
<rect x="476.13" y="71.6" width="2.5" height="14.00" fill="#089981"/>
<line x1="480.50" y1="68" x2="480.50" y2="71.25" stroke="#f23645" stroke-width="0.9" stroke-opacity="0.8"/>
<line x1="480.50" y1="76.25" x2="480.50" y2="77" stroke="#f23645" stroke-width="0.9" stroke-opacity="0.8"/>
<rect x="479.09" y="71.25" width="2.5" height="5.00" fill="#f23645"/>
<line x1="483.50" y1="62.2" x2="483.50" y2="65" stroke="#089981" stroke-width="0.9" stroke-opacity="0.8"/>
<line x1="483.50" y1="76.25" x2="483.50" y2="77" stroke="#089981" stroke-width="0.9" stroke-opacity="0.8"/>
<rect x="482.05" y="65" width="2.5" height="11.25" fill="#089981"/>
<line x1="486.50" y1="56.9" x2="486.50" y2="65" stroke="#f23645" stroke-width="0.9" stroke-opacity="0.8"/>
<line x1="486.50" y1="72.75" x2="486.50" y2="73.5" stroke="#f23645" stroke-width="0.9" stroke-opacity="0.8"/>
<rect x="485.00" y="65" width="2.5" height="7.75" fill="#f23645"/>
<line x1="488.50" y1="65" x2="488.50" y2="72.2" stroke="#f23645" stroke-width="0.9" stroke-opacity="0.8"/>
<line x1="488.50" y1="75" x2="488.50" y2="75.5" stroke="#f23645" stroke-width="0.9" stroke-opacity="0.8"/>
<rect x="487.46" y="72.2" width="2.5" height="2.80" fill="#f23645"/>
<line x1="491.50" y1="53" x2="491.50" y2="60" stroke="#089981" stroke-width="0.9" stroke-opacity="0.8"/>
<line x1="491.50" y1="74.7" x2="491.50" y2="75" stroke="#089981" stroke-width="0.9" stroke-opacity="0.8"/>
<rect x="490.42" y="60" width="2.5" height="14.70" fill="#089981"/>
<line x1="494.50" y1="53.75" x2="494.50" y2="58.75" stroke="#089981" stroke-width="0.9" stroke-opacity="0.8"/>
<line x1="494.50" y1="60.6" x2="494.50" y2="63" stroke="#089981" stroke-width="0.9" stroke-opacity="0.8"/>
<rect x="493.37" y="58.75" width="2.5" height="1.85" fill="#089981"/>
<line x1="497.50" y1="74.5" x2="497.50" y2="75" stroke="#f23645" stroke-width="0.9" stroke-opacity="0.8"/>
<line x1="497.50" y1="87.2" x2="497.50" y2="96.25" stroke="#f23645" stroke-width="0.9" stroke-opacity="0.8"/>
<rect x="496.33" y="75" width="2.5" height="12.20" fill="#f23645"/>
<line x1="500.50" y1="74.5" x2="500.50" y2="75" stroke="#f23645" stroke-width="0.9" stroke-opacity="0.8"/>
<line x1="500.50" y1="91.9" x2="500.50" y2="92.5" stroke="#f23645" stroke-width="0.9" stroke-opacity="0.8"/>
<rect x="499.29" y="75" width="2.5" height="16.90" fill="#f23645"/>
<line x1="503.50" y1="90" x2="503.50" y2="91.25" stroke="#f23645" stroke-width="0.9" stroke-opacity="0.8"/>
<line x1="503.50" y1="111.9" x2="503.50" y2="132" stroke="#f9a9b0" stroke-width="0.9" stroke-opacity="0.8"/>
<rect x="502.24" y="91.25" width="2.5" height="20.65" fill="#f23645"/>
<line x1="506.50" y1="102.5" x2="506.50" y2="111.9" stroke="#f23645" stroke-width="0.9" stroke-opacity="0.8"/>
<line x1="506.50" y1="133" x2="506.50" y2="133.5" stroke="#f23645" stroke-width="0.9" stroke-opacity="0.8"/>
<rect x="505.20" y="111.9" width="2.5" height="21.10" fill="#f23645"/>
<line x1="509.50" y1="116.9" x2="509.50" y2="128" stroke="#089981" stroke-width="0.9" stroke-opacity="0.8"/>
<line x1="509.50" y1="133" x2="509.50" y2="149.4" stroke="#089981" stroke-width="0.9" stroke-opacity="0.8"/>
<rect x="508.16" y="128" width="2.5" height="5.00" fill="#089981"/>
<line x1="512.50" y1="123" x2="512.50" y2="128" stroke="#f23645" stroke-width="0.9" stroke-opacity="0.8"/>
<line x1="512.50" y1="138" x2="512.50" y2="144.4" stroke="#f23645" stroke-width="0.9" stroke-opacity="0.8"/>
<rect x="511.12" y="128" width="2.5" height="10.00" fill="#f23645"/>
<line x1="515.50" y1="127.5" x2="515.50" y2="133.75" stroke="#089981" stroke-width="0.9" stroke-opacity="0.8"/>
<line x1="515.50" y1="138" x2="515.50" y2="141.25" stroke="#089981" stroke-width="0.9" stroke-opacity="0.8"/>
<rect x="514.07" y="133.75" width="2.5" height="4.25" fill="#089981"/>
<line x1="518.50" y1="132.5" x2="518.50" y2="133.75" stroke="#f23645" stroke-width="0.9" stroke-opacity="0.8"/>
<line x1="518.50" y1="153" x2="518.50" y2="153.5" stroke="#f23645" stroke-width="0.9" stroke-opacity="0.8"/>
<rect x="517.03" y="133.75" width="2.5" height="19.25" fill="#f23645"/>
<line x1="520.50" y1="149.4" x2="520.50" y2="153" stroke="#f23645" stroke-width="0.9" stroke-opacity="0.8"/>
<line x1="520.50" y1="190.6" x2="520.50" y2="194.4" stroke="#f23645" stroke-width="0.9" stroke-opacity="0.8"/>
<rect x="519.49" y="153" width="2.5" height="37.60" fill="#f23645"/>
<line x1="523.50" y1="184.4" x2="523.50" y2="190.6" stroke="#f23645" stroke-width="0.9" stroke-opacity="0.8"/>
<line x1="523.50" y1="200" x2="523.50" y2="205" stroke="#f23645" stroke-width="0.9" stroke-opacity="0.8"/>
<rect x="522.44" y="190.6" width="2.5" height="9.40" fill="#f23645"/>
<line x1="526.50" y1="190" x2="526.50" y2="198.75" stroke="#f9a9b0" stroke-width="0.9" stroke-opacity="0.8"/>
<line x1="526.50" y1="200.6" x2="526.50" y2="236.9" stroke="#f9a9b0" stroke-width="0.9" stroke-opacity="0.8"/>
<rect x="525.40" y="198.75" width="2.5" height="1.85" fill="#f9a9b0"/>
<line x1="529.50" y1="177.5" x2="529.50" y2="186.25" stroke="#089981" stroke-width="0.9" stroke-opacity="0.8"/>
<line x1="529.50" y1="200" x2="529.50" y2="201" stroke="#089981" stroke-width="0.9" stroke-opacity="0.8"/>
<rect x="528.36" y="186.25" width="2.5" height="13.75" fill="#089981"/>
<line x1="532.50" y1="181.25" x2="532.50" y2="186.25" stroke="#f23645" stroke-width="0.9" stroke-opacity="0.8"/>
<line x1="532.50" y1="198" x2="532.50" y2="209.4" stroke="#f23645" stroke-width="0.9" stroke-opacity="0.8"/>
<rect x="531.31" y="186.25" width="2.5" height="11.75" fill="#f23645"/>
<line x1="535.50" y1="187.5" x2="535.50" y2="197" stroke="#089981" stroke-width="0.9" stroke-opacity="0.8"/>
<line x1="535.50" y1="198.2" x2="535.50" y2="201.9" stroke="#089981" stroke-width="0.9" stroke-opacity="0.8"/>
<rect x="534.27" y="197" width="2.5" height="1.20" fill="#089981"/>
<line x1="538.50" y1="181.25" x2="538.50" y2="188.75" stroke="#089981" stroke-width="0.9" stroke-opacity="0.8"/>
<line x1="538.50" y1="198" x2="538.50" y2="200" stroke="#089981" stroke-width="0.9" stroke-opacity="0.8"/>
<rect x="537.23" y="188.75" width="2.5" height="9.25" fill="#089981"/>
<line x1="541.50" y1="160.6" x2="541.50" y2="174.4" stroke="#089981" stroke-width="0.9" stroke-opacity="0.8"/>
<line x1="541.50" y1="188.75" x2="541.50" y2="189" stroke="#089981" stroke-width="0.9" stroke-opacity="0.8"/>
<rect x="540.18" y="174.4" width="2.5" height="14.35" fill="#089981"/>
<line x1="544.50" y1="165" x2="544.50" y2="173.75" stroke="#089981" stroke-width="0.9" stroke-opacity="0.8"/>
<line x1="544.50" y1="175" x2="544.50" y2="183" stroke="#089981" stroke-width="0.9" stroke-opacity="0.8"/>
<rect x="543.14" y="173.75" width="2.5" height="1.25" fill="#089981"/>
<line x1="547.50" y1="167.5" x2="547.50" y2="172.25" stroke="#089981" stroke-width="0.9" stroke-opacity="0.8"/>
<line x1="547.50" y1="173.9" x2="547.50" y2="178.75" stroke="#089981" stroke-width="0.9" stroke-opacity="0.8"/>
<rect x="546.10" y="172.25" width="2.5" height="1.65" fill="#089981"/>
<line x1="550.50" y1="165" x2="550.50" y2="172.25" stroke="#f23645" stroke-width="0.9" stroke-opacity="0.8"/>
<line x1="550.50" y1="176.25" x2="550.50" y2="177" stroke="#f23645" stroke-width="0.9" stroke-opacity="0.8"/>
<rect x="549.05" y="172.25" width="2.5" height="4.00" fill="#f23645"/>
<line x1="553.50" y1="175.6" x2="553.50" y2="176.25" stroke="#f23645" stroke-width="0.9" stroke-opacity="0.8"/>
<line x1="553.50" y1="196.9" x2="553.50" y2="197.5" stroke="#f23645" stroke-width="0.9" stroke-opacity="0.8"/>
<rect x="552.01" y="176.25" width="2.5" height="20.65" fill="#f23645"/>
<line x1="555.50" y1="165.6" x2="555.50" y2="180" stroke="#089981" stroke-width="0.9" stroke-opacity="0.8"/>
<line x1="555.50" y1="196.9" x2="555.50" y2="205" stroke="#089981" stroke-width="0.9" stroke-opacity="0.8"/>
<rect x="554.47" y="180" width="2.5" height="16.90" fill="#089981"/>
<line x1="558.50" y1="174.4" x2="558.50" y2="180" stroke="#f23645" stroke-width="0.9" stroke-opacity="0.8"/>
<line x1="558.50" y1="195.6" x2="558.50" y2="200" stroke="#f23645" stroke-width="0.9" stroke-opacity="0.8"/>
<rect x="557.42" y="180" width="2.5" height="15.60" fill="#f23645"/>
<line x1="561.50" y1="188.75" x2="561.50" y2="195.6" stroke="#f9a9b0" stroke-width="0.9" stroke-opacity="0.8"/>
<line x1="561.50" y1="201.9" x2="561.50" y2="219.2" stroke="#f9a9b0" stroke-width="0.9" stroke-opacity="0.8"/>
<rect x="560.38" y="195.6" width="2.5" height="6.30" fill="#f9a9b0"/>
<line x1="564.50" y1="186.9" x2="564.50" y2="188.75" stroke="#089981" stroke-width="0.9" stroke-opacity="0.8"/>
<line x1="564.50" y1="201.9" x2="564.50" y2="211.9" stroke="#089981" stroke-width="0.9" stroke-opacity="0.8"/>
<rect x="563.34" y="188.75" width="2.5" height="13.15" fill="#089981"/>
<line x1="567.50" y1="181.9" x2="567.50" y2="184.4" stroke="#089981" stroke-width="0.9" stroke-opacity="0.8"/>
<line x1="567.50" y1="189.4" x2="567.50" y2="191.25" stroke="#089981" stroke-width="0.9" stroke-opacity="0.8"/>
<rect x="566.29" y="184.4" width="2.5" height="5.00" fill="#089981"/>
<line x1="570.50" y1="181.25" x2="570.50" y2="184.4" stroke="#f23645" stroke-width="0.9" stroke-opacity="0.8"/>
<line x1="570.50" y1="189.4" x2="570.50" y2="190" stroke="#f23645" stroke-width="0.9" stroke-opacity="0.8"/>
<rect x="569.25" y="184.4" width="2.5" height="5.00" fill="#f23645"/>
<line x1="573.50" y1="183" x2="573.50" y2="188.75" stroke="#f23645" stroke-width="0.9" stroke-opacity="0.8"/>
<line x1="573.50" y1="210.6" x2="573.50" y2="211" stroke="#f23645" stroke-width="0.9" stroke-opacity="0.8"/>
<rect x="572.21" y="188.75" width="2.5" height="21.85" fill="#f23645"/>
<line x1="576.50" y1="198" x2="576.50" y2="210" stroke="#f9a9b0" stroke-width="0.9" stroke-opacity="0.8"/>
<line x1="576.50" y1="221.9" x2="576.50" y2="224.4" stroke="#f23645" stroke-width="0.9" stroke-opacity="0.8"/>
<rect x="575.16" y="210" width="2.5" height="11.90" fill="#f23645"/>
<line x1="579.50" y1="185.6" x2="579.50" y2="195.6" stroke="#089981" stroke-width="0.9" stroke-opacity="0.8"/>
<line x1="579.50" y1="221.9" x2="579.50" y2="226.9" stroke="#089981" stroke-width="0.9" stroke-opacity="0.8"/>
<rect x="578.12" y="195.6" width="2.5" height="26.30" fill="#089981"/>
<line x1="582.50" y1="180" x2="582.50" y2="183" stroke="#089981" stroke-width="0.9" stroke-opacity="0.8"/>
<line x1="582.50" y1="196.9" x2="582.50" y2="197.5" stroke="#089981" stroke-width="0.9" stroke-opacity="0.8"/>
<rect x="581.08" y="183" width="2.5" height="13.90" fill="#089981"/>
<line x1="585.50" y1="220" x2="585.50" y2="226.9" stroke="#f23645" stroke-width="0.9" stroke-opacity="0.8"/>
<line x1="585.50" y1="245" x2="585.50" y2="245.5" stroke="#f23645" stroke-width="0.9" stroke-opacity="0.8"/>
<rect x="584.03" y="226.9" width="2.5" height="18.10" fill="#f23645"/>
<line x1="587.50" y1="236.9" x2="587.50" y2="240" stroke="#089981" stroke-width="0.9" stroke-opacity="0.8"/>
<line x1="587.50" y1="245" x2="587.50" y2="251.25" stroke="#089981" stroke-width="0.9" stroke-opacity="0.8"/>
<rect x="586.49" y="240" width="2.5" height="5.00" fill="#089981"/>
<line x1="590.50" y1="211.9" x2="590.50" y2="233.75" stroke="#089981" stroke-width="0.9" stroke-opacity="0.8"/>
<line x1="590.50" y1="240" x2="590.50" y2="246.25" stroke="#089981" stroke-width="0.9" stroke-opacity="0.8"/>
<rect x="589.45" y="233.75" width="2.5" height="6.25" fill="#089981"/>
<line x1="593.50" y1="211.25" x2="593.50" y2="223" stroke="#089981" stroke-width="0.9" stroke-opacity="0.8"/>
<line x1="593.50" y1="234.4" x2="593.50" y2="236.25" stroke="#089981" stroke-width="0.9" stroke-opacity="0.8"/>
<rect x="592.40" y="223" width="2.5" height="11.40" fill="#089981"/>
<line x1="596.50" y1="193.75" x2="596.50" y2="201.25" stroke="#089981" stroke-width="0.9" stroke-opacity="0.8"/>
<line x1="596.50" y1="223" x2="596.50" y2="225.6" stroke="#089981" stroke-width="0.9" stroke-opacity="0.8"/>
<rect x="595.36" y="201.25" width="2.5" height="21.75" fill="#089981"/>
<line x1="599.50" y1="170.5" x2="599.50" y2="171.25" stroke="#089981" stroke-width="0.9" stroke-opacity="0.8"/>
<line x1="599.50" y1="201.9" x2="599.50" y2="209.4" stroke="#089981" stroke-width="0.9" stroke-opacity="0.8"/>
<rect x="598.32" y="171.25" width="2.5" height="30.65" fill="#089981"/>
<line x1="602.50" y1="166.25" x2="602.50" y2="171.9" stroke="#f23645" stroke-width="0.9" stroke-opacity="0.8"/>
<line x1="602.50" y1="177.8" x2="602.50" y2="178.5" stroke="#f23645" stroke-width="0.9" stroke-opacity="0.8"/>
<rect x="601.27" y="171.9" width="2.5" height="5.90" fill="#f23645"/>
<line x1="605.50" y1="175" x2="605.50" y2="177.5" stroke="#f23645" stroke-width="0.9" stroke-opacity="0.8"/>
<line x1="605.50" y1="187.5" x2="605.50" y2="189.4" stroke="#f23645" stroke-width="0.9" stroke-opacity="0.8"/>
<rect x="604.23" y="177.5" width="2.5" height="10.00" fill="#f23645"/>
<line x1="608.50" y1="155" x2="608.50" y2="166.25" stroke="#089981" stroke-width="0.9" stroke-opacity="0.8"/>
<line x1="608.50" y1="186.9" x2="608.50" y2="187.5" stroke="#089981" stroke-width="0.9" stroke-opacity="0.8"/>
<rect x="607.19" y="166.25" width="2.5" height="20.65" fill="#089981"/>
<line x1="611.50" y1="157.5" x2="611.50" y2="165.6" stroke="#f23645" stroke-width="0.9" stroke-opacity="0.8"/>
<line x1="611.50" y1="172.5" x2="611.50" y2="181.25" stroke="#f23645" stroke-width="0.9" stroke-opacity="0.8"/>
<rect x="610.14" y="165.6" width="2.5" height="6.90" fill="#f23645"/>
<line x1="614.50" y1="160.6" x2="614.50" y2="161.9" stroke="#089981" stroke-width="0.9" stroke-opacity="0.8"/>
<line x1="614.50" y1="172.8" x2="614.50" y2="176.9" stroke="#089981" stroke-width="0.9" stroke-opacity="0.8"/>
<rect x="613.10" y="161.9" width="2.5" height="10.90" fill="#089981"/>
<line x1="617.50" y1="151.9" x2="617.50" y2="161.6" stroke="#f23645" stroke-width="0.9" stroke-opacity="0.8"/>
<line x1="617.50" y1="188.75" x2="617.50" y2="189" stroke="#f23645" stroke-width="0.9" stroke-opacity="0.8"/>
<rect x="616.06" y="161.6" width="2.5" height="27.15" fill="#f23645"/>
<line x1="620.50" y1="178.75" x2="620.50" y2="183" stroke="#089981" stroke-width="0.9" stroke-opacity="0.8"/>
<line x1="620.50" y1="188.75" x2="620.50" y2="191.9" stroke="#089981" stroke-width="0.9" stroke-opacity="0.8"/>
<rect x="619.01" y="183" width="2.5" height="5.75" fill="#089981"/>
<line x1="622.50" y1="172" x2="622.50" y2="173" stroke="#089981" stroke-width="0.9" stroke-opacity="0.8"/>
<line x1="622.50" y1="183.75" x2="622.50" y2="184" stroke="#089981" stroke-width="0.9" stroke-opacity="0.8"/>
<rect x="621.47" y="173" width="2.5" height="10.75" fill="#089981"/>
<line x1="625.50" y1="165.6" x2="625.50" y2="173" stroke="#f23645" stroke-width="0.9" stroke-opacity="0.8"/>
<line x1="625.50" y1="186.25" x2="625.50" y2="190.6" stroke="#f23645" stroke-width="0.9" stroke-opacity="0.8"/>
<rect x="624.43" y="173" width="2.5" height="13.25" fill="#f23645"/>
<line x1="628.50" y1="184" x2="628.50" y2="185.6" stroke="#f23645" stroke-width="0.9" stroke-opacity="0.8"/>
<line x1="628.50" y1="204.4" x2="628.50" y2="207.5" stroke="#f23645" stroke-width="0.9" stroke-opacity="0.8"/>
<rect x="627.38" y="185.6" width="2.5" height="18.80" fill="#f23645"/>
<line x1="631.50" y1="186.25" x2="631.50" y2="205" stroke="#f9a9b0" stroke-width="0.9" stroke-opacity="0.8"/>
<line x1="631.50" y1="212.5" x2="631.50" y2="216.9" stroke="#f23645" stroke-width="0.9" stroke-opacity="0.8"/>
<rect x="630.34" y="205" width="2.5" height="7.50" fill="#f23645"/>
<line x1="634.50" y1="208" x2="634.50" y2="211.9" stroke="#f23645" stroke-width="0.9" stroke-opacity="0.8"/>
<line x1="634.50" y1="214.4" x2="634.50" y2="218" stroke="#f23645" stroke-width="0.9" stroke-opacity="0.8"/>
<rect x="633.30" y="211.9" width="2.5" height="2.50" fill="#f23645"/>
<line x1="637.50" y1="210" x2="637.50" y2="214.4" stroke="#f23645" stroke-width="0.9" stroke-opacity="0.8"/>
<line x1="637.50" y1="227.5" x2="637.50" y2="234.4" stroke="#f23645" stroke-width="0.9" stroke-opacity="0.8"/>
<rect x="636.26" y="214.4" width="2.5" height="13.10" fill="#f23645"/>
<line x1="640.50" y1="221.25" x2="640.50" y2="226.9" stroke="#f23645" stroke-width="0.9" stroke-opacity="0.8"/>
<line x1="640.50" y1="235.4" x2="640.50" y2="236" stroke="#f23645" stroke-width="0.9" stroke-opacity="0.8"/>
<rect x="639.21" y="226.9" width="2.5" height="8.50" fill="#f23645"/>
<line x1="643.50" y1="220.6" x2="643.50" y2="226.25" stroke="#089981" stroke-width="0.9" stroke-opacity="0.8"/>
<line x1="643.50" y1="235.4" x2="643.50" y2="236" stroke="#089981" stroke-width="0.9" stroke-opacity="0.8"/>
<rect x="642.17" y="226.25" width="2.5" height="9.15" fill="#089981"/>
<line x1="646.50" y1="215" x2="646.50" y2="226.25" stroke="#f9a9b0" stroke-width="0.9" stroke-opacity="0.8"/>
<line x1="646.50" y1="231.9" x2="646.50" y2="232.5" stroke="#f23645" stroke-width="0.9" stroke-opacity="0.8"/>
<rect x="645.13" y="226.25" width="2.5" height="5.65" fill="#f23645"/>
<line x1="649.50" y1="225" x2="649.50" y2="231.25" stroke="#f23645" stroke-width="0.9" stroke-opacity="0.8"/>
<line x1="649.50" y1="242.3" x2="649.50" y2="248.9" stroke="#f23645" stroke-width="0.9" stroke-opacity="0.8"/>
<rect x="648.08" y="231.25" width="2.5" height="11.05" fill="#f23645"/>
<line x1="652.50" y1="236.4" x2="652.50" y2="242" stroke="#f23645" stroke-width="0.9" stroke-opacity="0.8"/>
<line x1="652.50" y1="249.5" x2="652.50" y2="250" stroke="#f23645" stroke-width="0.9" stroke-opacity="0.8"/>
<rect x="651.04" y="242" width="2.5" height="7.50" fill="#f23645"/>
<line x1="654.50" y1="237.6" x2="654.50" y2="241.4" stroke="#089981" stroke-width="0.9" stroke-opacity="0.8"/>
<line x1="654.50" y1="248.25" x2="654.50" y2="249" stroke="#089981" stroke-width="0.9" stroke-opacity="0.8"/>
<rect x="653.50" y="241.4" width="2.5" height="6.85" fill="#089981"/>
<line x1="657.50" y1="240.5" x2="657.50" y2="241.4" stroke="#f23645" stroke-width="0.9" stroke-opacity="0.8"/>
<line x1="657.50" y1="254.5" x2="657.50" y2="255" stroke="#f23645" stroke-width="0.9" stroke-opacity="0.8"/>
<rect x="656.45" y="241.4" width="2.5" height="13.10" fill="#f23645"/>
<line x1="660.50" y1="253" x2="660.50" y2="253.9" stroke="#f23645" stroke-width="0.9" stroke-opacity="0.8"/>
<line x1="660.50" y1="289.4" x2="660.50" y2="296.9" stroke="#f23645" stroke-width="0.9" stroke-opacity="0.8"/>
<rect x="659.41" y="253.9" width="2.5" height="35.50" fill="#f23645"/>
<line x1="663.50" y1="262.6" x2="663.50" y2="269.5" stroke="#089981" stroke-width="0.9" stroke-opacity="0.8"/>
<line x1="663.50" y1="289.4" x2="663.50" y2="290" stroke="#089981" stroke-width="0.9" stroke-opacity="0.8"/>
<rect x="662.37" y="269.5" width="2.5" height="19.90" fill="#089981"/>
<line x1="666.50" y1="262" x2="666.50" y2="268.25" stroke="#f23645" stroke-width="0.9" stroke-opacity="0.8"/>
<line x1="666.50" y1="291.9" x2="666.50" y2="295.6" stroke="#f23645" stroke-width="0.9" stroke-opacity="0.8"/>
<rect x="665.32" y="268.25" width="2.5" height="23.65" fill="#f23645"/>
<line x1="669.50" y1="288.75" x2="669.50" y2="291.9" stroke="#f23645" stroke-width="0.9" stroke-opacity="0.8"/>
<line x1="669.50" y1="307.5" x2="669.50" y2="311" stroke="#f23645" stroke-width="0.9" stroke-opacity="0.8"/>
<rect x="668.28" y="291.9" width="2.5" height="15.60" fill="#f23645"/>
<line x1="672.50" y1="283" x2="672.50" y2="283.6" stroke="#089981" stroke-width="0.9" stroke-opacity="0.8"/>
<line x1="672.50" y1="294.4" x2="672.50" y2="306.25" stroke="#089981" stroke-width="0.9" stroke-opacity="0.8"/>
<rect x="671.24" y="283.6" width="2.5" height="10.80" fill="#089981"/>
<line x1="675.50" y1="283" x2="675.50" y2="283.6" stroke="#f23645" stroke-width="0.9" stroke-opacity="0.8"/>
<line x1="675.50" y1="291.25" x2="675.50" y2="293.75" stroke="#f23645" stroke-width="0.9" stroke-opacity="0.8"/>
<rect x="674.19" y="283.6" width="2.5" height="7.65" fill="#f23645"/>
<line x1="678.50" y1="289" x2="678.50" y2="290" stroke="#089981" stroke-width="0.9" stroke-opacity="0.8"/>
<line x1="678.50" y1="291.5" x2="678.50" y2="308" stroke="#089981" stroke-width="0.9" stroke-opacity="0.8"/>
<rect x="677.15" y="290" width="2.5" height="1.50" fill="#089981"/>
<line x1="681.50" y1="263.9" x2="681.50" y2="272" stroke="#089981" stroke-width="0.9" stroke-opacity="0.8"/>
<line x1="681.50" y1="290" x2="681.50" y2="290.5" stroke="#089981" stroke-width="0.9" stroke-opacity="0.8"/>
<rect x="680.11" y="272" width="2.5" height="18.00" fill="#089981"/>
<line x1="684.50" y1="255" x2="684.50" y2="260" stroke="#089981" stroke-width="0.9" stroke-opacity="0.8"/>
<line x1="684.50" y1="272" x2="684.50" y2="272.5" stroke="#089981" stroke-width="0.9" stroke-opacity="0.8"/>
<rect x="683.06" y="260" width="2.5" height="12.00" fill="#089981"/>
<line x1="687.50" y1="240" x2="687.50" y2="252" stroke="#089981" stroke-width="0.9" stroke-opacity="0.8"/>
<line x1="687.50" y1="260" x2="687.50" y2="262" stroke="#089981" stroke-width="0.9" stroke-opacity="0.8"/>
<rect x="686.02" y="252" width="2.5" height="8.00" fill="#089981"/>
<line x1="689.50" y1="250" x2="689.50" y2="252" stroke="#f23645" stroke-width="0.9" stroke-opacity="0.8"/>
<line x1="689.50" y1="260" x2="689.50" y2="260.5" stroke="#f23645" stroke-width="0.9" stroke-opacity="0.8"/>
<rect x="688.48" y="252" width="2.5" height="8.00" fill="#f23645"/>
<line x1="692.50" y1="254.5" x2="692.50" y2="258.25" stroke="#089981" stroke-width="0.9" stroke-opacity="0.8"/>
<line x1="692.50" y1="260.75" x2="692.50" y2="264.5" stroke="#089981" stroke-width="0.9" stroke-opacity="0.8"/>
<rect x="691.43" y="258.25" width="2.5" height="2.50" fill="#089981"/>
<line x1="695.50" y1="243.9" x2="695.50" y2="249.5" stroke="#089981" stroke-width="0.9" stroke-opacity="0.8"/>
<line x1="695.50" y1="258.25" x2="695.50" y2="277" stroke="#089981" stroke-width="0.9" stroke-opacity="0.8"/>
<rect x="694.39" y="249.5" width="2.5" height="8.75" fill="#089981"/>
<line x1="698.50" y1="240" x2="698.50" y2="240.7" stroke="#089981" stroke-width="0.9" stroke-opacity="0.8"/>
<line x1="698.50" y1="250" x2="698.50" y2="252.6" stroke="#089981" stroke-width="0.9" stroke-opacity="0.8"/>
<rect x="697.35" y="240.7" width="2.5" height="9.30" fill="#089981"/>
<line x1="701.50" y1="228.75" x2="701.50" y2="238.9" stroke="#089981" stroke-width="0.9" stroke-opacity="0.8"/>
<line x1="701.50" y1="241.3" x2="701.50" y2="244.5" stroke="#089981" stroke-width="0.9" stroke-opacity="0.8"/>
<rect x="700.30" y="238.9" width="2.5" height="2.40" fill="#089981"/>
<line x1="704.50" y1="226.9" x2="704.50" y2="230.6" stroke="#089981" stroke-width="0.9" stroke-opacity="0.8"/>
<line x1="704.50" y1="238.9" x2="704.50" y2="239.5" stroke="#089981" stroke-width="0.9" stroke-opacity="0.8"/>
<rect x="703.26" y="230.6" width="2.5" height="8.30" fill="#089981"/>
<line x1="707.50" y1="228.75" x2="707.50" y2="231.9" stroke="#f23645" stroke-width="0.9" stroke-opacity="0.8"/>
<line x1="707.50" y1="236" x2="707.50" y2="236.5" stroke="#f23645" stroke-width="0.9" stroke-opacity="0.8"/>
<rect x="706.22" y="231.9" width="2.5" height="4.10" fill="#f23645"/>
<line x1="710.50" y1="228.75" x2="710.50" y2="230" stroke="#089981" stroke-width="0.9" stroke-opacity="0.8"/>
<line x1="710.50" y1="236.25" x2="710.50" y2="236.5" stroke="#089981" stroke-width="0.9" stroke-opacity="0.8"/>
<rect x="709.17" y="230" width="2.5" height="6.25" fill="#089981"/>
<line x1="713.50" y1="225" x2="713.50" y2="230" stroke="#f23645" stroke-width="0.9" stroke-opacity="0.8"/>
<line x1="713.50" y1="236.4" x2="713.50" y2="237" stroke="#f23645" stroke-width="0.9" stroke-opacity="0.8"/>
<rect x="712.13" y="230" width="2.5" height="6.40" fill="#f23645"/>
<line x1="716.50" y1="221.9" x2="716.50" y2="235.9" stroke="#f9a9b0" stroke-width="0.9" stroke-opacity="0.8"/>
<line x1="716.50" y1="251.4" x2="716.50" y2="252" stroke="#f23645" stroke-width="0.9" stroke-opacity="0.8"/>
<rect x="715.09" y="235.9" width="2.5" height="15.50" fill="#f23645"/>
<line x1="719.50" y1="237.5" x2="719.50" y2="250" stroke="#089981" stroke-width="0.9" stroke-opacity="0.8"/>
<line x1="719.50" y1="251.4" x2="719.50" y2="262" stroke="#089981" stroke-width="0.9" stroke-opacity="0.8"/>
<rect x="718.04" y="250" width="2.5" height="1.40" fill="#089981"/>
<line x1="722.50" y1="240" x2="722.50" y2="249.5" stroke="#f23645" stroke-width="0.9" stroke-opacity="0.8"/>
<line x1="722.50" y1="286.9" x2="722.50" y2="287.5" stroke="#f23645" stroke-width="0.9" stroke-opacity="0.8"/>
<rect x="721.00" y="249.5" width="2.5" height="37.40" fill="#f23645"/>
<line x1="724.50" y1="271" x2="724.50" y2="272" stroke="#089981" stroke-width="0.9" stroke-opacity="0.8"/>
<line x1="724.50" y1="286.9" x2="724.50" y2="287.5" stroke="#089981" stroke-width="0.9" stroke-opacity="0.8"/>
<rect x="723.46" y="272" width="2.5" height="14.90" fill="#089981"/>
<line x1="727.50" y1="260.75" x2="727.50" y2="272" stroke="#f23645" stroke-width="0.9" stroke-opacity="0.8"/>
<line x1="727.50" y1="275" x2="727.50" y2="275.5" stroke="#f23645" stroke-width="0.9" stroke-opacity="0.8"/>
<rect x="726.41" y="272" width="2.5" height="3.00" fill="#f23645"/>
<line x1="730.50" y1="270.75" x2="730.50" y2="274.7" stroke="#f23645" stroke-width="0.9" stroke-opacity="0.8"/>
<line x1="730.50" y1="286.9" x2="730.50" y2="290.6" stroke="#f23645" stroke-width="0.9" stroke-opacity="0.8"/>
<rect x="729.37" y="274.7" width="2.5" height="12.20" fill="#f23645"/>
<line x1="733.50" y1="262" x2="733.50" y2="263.9" stroke="#089981" stroke-width="0.9" stroke-opacity="0.8"/>
<line x1="733.50" y1="286.25" x2="733.50" y2="287" stroke="#089981" stroke-width="0.9" stroke-opacity="0.8"/>
<rect x="732.33" y="263.9" width="2.5" height="22.35" fill="#089981"/>
<line x1="736.50" y1="231.9" x2="736.50" y2="233.5" stroke="#089981" stroke-width="0.9" stroke-opacity="0.8"/>
<line x1="736.50" y1="263.9" x2="736.50" y2="274.5" stroke="#089981" stroke-width="0.9" stroke-opacity="0.8"/>
<rect x="735.28" y="233.5" width="2.5" height="30.40" fill="#089981"/>
<line x1="739.50" y1="183.75" x2="739.50" y2="200.6" stroke="#089981" stroke-width="0.9" stroke-opacity="0.8"/>
<line x1="739.50" y1="233.75" x2="739.50" y2="234.5" stroke="#089981" stroke-width="0.9" stroke-opacity="0.8"/>
<rect x="738.24" y="200.6" width="2.5" height="33.15" fill="#089981"/>
<line x1="742.50" y1="196.9" x2="742.50" y2="200.6" stroke="#f23645" stroke-width="0.9" stroke-opacity="0.8"/>
<line x1="742.50" y1="210" x2="742.50" y2="210.5" stroke="#f23645" stroke-width="0.9" stroke-opacity="0.8"/>
<rect x="741.20" y="200.6" width="2.5" height="9.40" fill="#f23645"/>
<line x1="745.50" y1="207.5" x2="745.50" y2="210" stroke="#f23645" stroke-width="0.9" stroke-opacity="0.8"/>
<line x1="745.50" y1="221.9" x2="745.50" y2="222.5" stroke="#f23645" stroke-width="0.9" stroke-opacity="0.8"/>
<rect x="744.15" y="210" width="2.5" height="11.90" fill="#f23645"/>
<line x1="748.50" y1="205.6" x2="748.50" y2="213.75" stroke="#089981" stroke-width="0.9" stroke-opacity="0.8"/>
<line x1="748.50" y1="221.9" x2="748.50" y2="223.75" stroke="#089981" stroke-width="0.9" stroke-opacity="0.8"/>
<rect x="747.11" y="213.75" width="2.5" height="8.15" fill="#089981"/>
<line x1="751.50" y1="205.6" x2="751.50" y2="214.4" stroke="#f9a9b0" stroke-width="0.9" stroke-opacity="0.8"/>
<line x1="751.50" y1="216.9" x2="751.50" y2="233" stroke="#f9a9b0" stroke-width="0.9" stroke-opacity="0.8"/>
<rect x="750.07" y="214.4" width="2.5" height="2.50" fill="#f23645"/>
<line x1="754.50" y1="214.5" x2="754.50" y2="215.6" stroke="#f23645" stroke-width="0.9" stroke-opacity="0.8"/>
<line x1="754.50" y1="220" x2="754.50" y2="228.75" stroke="#f9a9b0" stroke-width="0.9" stroke-opacity="0.8"/>
<rect x="753.03" y="215.6" width="2.5" height="4.40" fill="#f23645"/>
<line x1="756.50" y1="210.6" x2="756.50" y2="211.7" stroke="#089981" stroke-width="0.9" stroke-opacity="0.8"/>
<line x1="756.50" y1="219.4" x2="756.50" y2="226.9" stroke="#089981" stroke-width="0.9" stroke-opacity="0.8"/>
<rect x="755.48" y="211.7" width="2.5" height="7.70" fill="#089981"/>
<line x1="759.50" y1="216.25" x2="759.50" y2="228.75" stroke="#f23645" stroke-width="0.9" stroke-opacity="0.8"/>
<line x1="759.50" y1="232.5" x2="759.50" y2="233" stroke="#f23645" stroke-width="0.9" stroke-opacity="0.8"/>
<rect x="758.44" y="228.75" width="2.5" height="3.75" fill="#f23645"/>
<line x1="762.50" y1="218.75" x2="762.50" y2="224.4" stroke="#089981" stroke-width="0.9" stroke-opacity="0.8"/>
<line x1="762.50" y1="228.75" x2="762.50" y2="229.5" stroke="#089981" stroke-width="0.9" stroke-opacity="0.8"/>
<rect x="761.40" y="224.4" width="2.5" height="4.35" fill="#089981"/>
<line x1="765.50" y1="223.5" x2="765.50" y2="224.4" stroke="#f23645" stroke-width="0.9" stroke-opacity="0.8"/>
<line x1="765.50" y1="237.5" x2="765.50" y2="242.5" stroke="#f23645" stroke-width="0.9" stroke-opacity="0.8"/>
<rect x="764.35" y="224.4" width="2.5" height="13.10" fill="#f23645"/>
<line x1="768.50" y1="181.25" x2="768.50" y2="186.25" stroke="#089981" stroke-width="0.9" stroke-opacity="0.8"/>
<line x1="768.50" y1="236.9" x2="768.50" y2="264.7" stroke="#089981" stroke-width="0.9" stroke-opacity="0.8"/>
<rect x="767.31" y="186.25" width="2.5" height="50.65" fill="#089981"/>
<line x1="771.50" y1="168.75" x2="771.50" y2="186.25" stroke="#f23645" stroke-width="0.9" stroke-opacity="0.8"/>
<line x1="771.50" y1="200" x2="771.50" y2="208.75" stroke="#f23645" stroke-width="0.9" stroke-opacity="0.8"/>
<rect x="770.27" y="186.25" width="2.5" height="13.75" fill="#f23645"/>
<line x1="774.50" y1="171.25" x2="774.50" y2="186.9" stroke="#089981" stroke-width="0.9" stroke-opacity="0.8"/>
<line x1="774.50" y1="200" x2="774.50" y2="201.9" stroke="#089981" stroke-width="0.9" stroke-opacity="0.8"/>
<rect x="773.22" y="186.9" width="2.5" height="13.10" fill="#089981"/>
<line x1="777.50" y1="182.5" x2="777.50" y2="186.9" stroke="#f23645" stroke-width="0.9" stroke-opacity="0.8"/>
<line x1="777.50" y1="201.25" x2="777.50" y2="205.6" stroke="#f23645" stroke-width="0.9" stroke-opacity="0.8"/>
<rect x="776.18" y="186.9" width="2.5" height="14.35" fill="#f23645"/>
<line x1="780.50" y1="196.25" x2="780.50" y2="200.6" stroke="#f23645" stroke-width="0.9" stroke-opacity="0.8"/>
<line x1="780.50" y1="206.25" x2="780.50" y2="207" stroke="#f23645" stroke-width="0.9" stroke-opacity="0.8"/>
<rect x="779.14" y="200.6" width="2.5" height="5.65" fill="#f23645"/>
<line x1="783.50" y1="182.5" x2="783.50" y2="201.25" stroke="#089981" stroke-width="0.9" stroke-opacity="0.8"/>
<line x1="783.50" y1="206.25" x2="783.50" y2="208.75" stroke="#089981" stroke-width="0.9" stroke-opacity="0.8"/>
<rect x="782.09" y="201.25" width="2.5" height="5.00" fill="#089981"/>
<line x1="786.50" y1="192.5" x2="786.50" y2="200.6" stroke="#f23645" stroke-width="0.9" stroke-opacity="0.8"/>
<line x1="786.50" y1="203.1" x2="786.50" y2="204" stroke="#f23645" stroke-width="0.9" stroke-opacity="0.8"/>
<rect x="785.05" y="200.6" width="2.5" height="2.50" fill="#f23645"/>
<line x1="789.50" y1="190" x2="789.50" y2="201" stroke="#f9a9b0" stroke-width="0.9" stroke-opacity="0.8"/>
<line x1="789.50" y1="203" x2="789.50" y2="214.4" stroke="#f9a9b0" stroke-width="0.9" stroke-opacity="0.8"/>
<rect x="788.01" y="201" width="2.5" height="2.00" fill="#f9a9b0"/>
<line x1="791.50" y1="176.25" x2="791.50" y2="189.4" stroke="#089981" stroke-width="0.9" stroke-opacity="0.8"/>
<line x1="791.50" y1="205" x2="791.50" y2="220.6" stroke="#089981" stroke-width="0.9" stroke-opacity="0.8"/>
<rect x="790.46" y="189.4" width="2.5" height="15.60" fill="#089981"/>
<line x1="794.50" y1="175" x2="794.50" y2="179.4" stroke="#089981" stroke-width="0.9" stroke-opacity="0.8"/>
<line x1="794.50" y1="190" x2="794.50" y2="191" stroke="#089981" stroke-width="0.9" stroke-opacity="0.8"/>
<rect x="793.42" y="179.4" width="2.5" height="10.60" fill="#089981"/>
<line x1="797.50" y1="179.4" x2="797.50" y2="180.6" stroke="#f23645" stroke-width="0.9" stroke-opacity="0.8"/>
<line x1="797.50" y1="194.4" x2="797.50" y2="195" stroke="#f23645" stroke-width="0.9" stroke-opacity="0.8"/>
<rect x="796.38" y="180.6" width="2.5" height="13.80" fill="#f23645"/>
<line x1="669.4" y1="311" x2="822" y2="259.8" stroke="#388e3c" stroke-width="1.7" stroke-linecap="round"/>
<rect x="821" y="48.1" width="69.79999999999995" height="16.6" rx="1.5" fill="#ff5252"/>
<path d="M850.6999999999999,64.5 L861.9,64.5 L856.3,70.4 Z" fill="#ff5252"/>
<text x="855.9" y="59.550000000000004" font-size="9.0" fill="#ffffff" text-anchor="middle" textLength="56.799999999999955" lengthAdjust="spacingAndGlyphs" stroke="#ffffff" stroke-width="0.3">1.17992(1.72%)</text>
<rect x="821" y="145.1" width="69.79999999999995" height="16.900000000000006" rx="1.5" fill="#ff5252"/>
<path d="M850.6999999999999,161.8 L861.9,161.8 L856.3,167.5 Z" fill="#ff5252"/>
<text x="855.9" y="156.70000000000002" font-size="9.0" fill="#ffffff" text-anchor="middle" textLength="56.799999999999955" lengthAdjust="spacingAndGlyphs" stroke="#ffffff" stroke-width="0.3">1.16428(0.37%)</text>
<rect x="822" y="257.1" width="67.79999999999995" height="16.5" rx="1.5" fill="#00e676"/>
<path d="M850.4,257.3 L861.6,257.3 L856,251 Z" fill="#00e676"/>
<text x="855.9" y="268.5" font-size="9.0" fill="#33574a" text-anchor="middle" textLength="54.799999999999955" lengthAdjust="spacingAndGlyphs" stroke="#33574a" stroke-width="0.12">1.15076(-0.8%)</text>
<text x="980" y="11.700000000000001" font-size="8.5" fill="#3b3f4d" font-weight="normal" text-anchor="start" textLength="29.6" lengthAdjust="spacingAndGlyphs" stroke="#3b3f4d" stroke-width="0.12">1.19000</text>
<text x="980" y="42.699999999999996" font-size="8.5" fill="#3b3f4d" font-weight="normal" text-anchor="start" textLength="29.6" lengthAdjust="spacingAndGlyphs" stroke="#3b3f4d" stroke-width="0.12">1.18500</text>
<text x="980" y="73.6" font-size="8.5" fill="#3b3f4d" font-weight="normal" text-anchor="start" textLength="29.6" lengthAdjust="spacingAndGlyphs" stroke="#3b3f4d" stroke-width="0.12">1.18000</text>
<text x="980" y="104.5" font-size="8.5" fill="#3b3f4d" font-weight="normal" text-anchor="start" textLength="29.6" lengthAdjust="spacingAndGlyphs" stroke="#3b3f4d" stroke-width="0.12">1.17500</text>
<text x="980" y="135.20000000000002" font-size="8.5" fill="#3b3f4d" font-weight="normal" text-anchor="start" textLength="29.6" lengthAdjust="spacingAndGlyphs" stroke="#3b3f4d" stroke-width="0.12">1.17000</text>
<text x="980" y="166.5" font-size="8.5" fill="#3b3f4d" font-weight="normal" text-anchor="start" textLength="29.6" lengthAdjust="spacingAndGlyphs" stroke="#3b3f4d" stroke-width="0.12">1.16500</text>
<text x="980" y="197.4" font-size="8.5" fill="#3b3f4d" font-weight="normal" text-anchor="start" textLength="29.6" lengthAdjust="spacingAndGlyphs" stroke="#3b3f4d" stroke-width="0.12">1.16000</text>
<text x="980" y="228.60000000000002" font-size="8.5" fill="#3b3f4d" font-weight="normal" text-anchor="start" textLength="29.6" lengthAdjust="spacingAndGlyphs" stroke="#3b3f4d" stroke-width="0.12">1.15500</text>
<text x="980" y="258.70000000000005" font-size="8.5" fill="#3b3f4d" font-weight="normal" text-anchor="start" textLength="29.6" lengthAdjust="spacingAndGlyphs" stroke="#3b3f4d" stroke-width="0.12">1.15000</text>
<text x="980" y="290.0" font-size="8.5" fill="#3b3f4d" font-weight="normal" text-anchor="start" textLength="29.6" lengthAdjust="spacingAndGlyphs" stroke="#3b3f4d" stroke-width="0.12">1.14500</text>
<text x="980" y="320.7" font-size="8.5" fill="#3b3f4d" font-weight="normal" text-anchor="start" textLength="29.6" lengthAdjust="spacingAndGlyphs" stroke="#3b3f4d" stroke-width="0.12">1.14000</text>
<text x="980" y="352.2" font-size="8.5" fill="#3b3f4d" font-weight="normal" text-anchor="start" textLength="29.6" lengthAdjust="spacingAndGlyphs" stroke="#3b3f4d" stroke-width="0.12">1.13500</text>
<text x="980" y="383.3" font-size="8.5" fill="#3b3f4d" font-weight="normal" text-anchor="start" textLength="29.6" lengthAdjust="spacingAndGlyphs" stroke="#3b3f4d" stroke-width="0.12">1.13000</text>
<clipPath id="cp0"><rect x="973" y="392.5" width="44" height="24"/></clipPath>
<g clip-path="url(#cp0)"><text x="980" y="416.6" font-size="8.3" fill="#3b3f4d" textLength="17" lengthAdjust="spacingAndGlyphs" stroke="#3b3f4d" stroke-width="0.12">0.00</text></g>
<rect x="938.1" y="191.1" width="75" height="11.700000000000017" rx="1.5" fill="#f23645"/>
<line x1="973.4" y1="191.1" x2="973.4" y2="202.8" stroke="#ffffff" stroke-opacity="0.75" stroke-width="0.9"/>
<text x="941.1" y="200.04999999999998" font-size="8.6" fill="#fff" textLength="29.6" lengthAdjust="spacingAndGlyphs" stroke="#fff" stroke-width="0.3">SMA:MA</text>
<text x="981" y="200.04999999999998" font-size="8.6" fill="#fff" textLength="28.6" lengthAdjust="spacingAndGlyphs" stroke="#fff" stroke-width="0.3">1.15957</text>
<rect x="938.1" y="233.1" width="75" height="11.700000000000017" rx="1.5" fill="#388e3c"/>
<line x1="973.4" y1="233.1" x2="973.4" y2="244.8" stroke="#ffffff" stroke-opacity="0.75" stroke-width="0.9"/>
<text x="941.1" y="242.04999999999998" font-size="8.6" fill="#fff" textLength="29.6" lengthAdjust="spacingAndGlyphs" stroke="#fff" stroke-width="0.3">SMA:MA</text>
<text x="981" y="242.04999999999998" font-size="8.6" fill="#fff" textLength="28.6" lengthAdjust="spacingAndGlyphs" stroke="#fff" stroke-width="0.3">1.15277</text>
<rect x="957" y="392.9" width="47.3" height="2" fill="#ff6d00"/>
<rect x="957" y="394.3" width="47.3" height="11.7" rx="1" fill="#2962ff"/>
<line x1="973.3" y1="392.9" x2="973.3" y2="406" stroke="#fff" stroke-opacity="0.8" stroke-width="0.9"/>
<text x="960" y="403.3" font-size="8.3" fill="#fff" textLength="10.5" lengthAdjust="spacingAndGlyphs" stroke="#fff" stroke-width="0.3">%K</text>
<text x="980.5" y="403.3" font-size="8.3" fill="#fff" textLength="20.5" lengthAdjust="spacingAndGlyphs" stroke="#fff" stroke-width="0.3">74.16</text>
<text x="50" y="1.45" font-size="9.3" fill="#2a2e39" textLength="15" lengthAdjust="spacingAndGlyphs" stroke="#2a2e39" stroke-width="0.12">SMA</text>
<text x="70.6" y="1.45" font-size="9.3" fill="#f23645" textLength="28.8" lengthAdjust="spacingAndGlyphs" stroke="#f23645" stroke-width="0.12">1.15957</text>
<text x="50" y="13.45" font-size="9.3" fill="#2a2e39" textLength="15" lengthAdjust="spacingAndGlyphs" stroke="#2a2e39" stroke-width="0.12">SMA</text>
<text x="70.6" y="13.45" font-size="9.3" fill="#388e3c" textLength="28.8" lengthAdjust="spacingAndGlyphs" stroke="#388e3c" stroke-width="0.12">1.15277</text>
<text x="50" y="25.6" font-size="9.3" fill="#2a2e39" textLength="16.5" lengthAdjust="spacingAndGlyphs" stroke="#2a2e39" stroke-width="0.12">SRv2</text>
<text x="72.5" y="25.6" font-size="9.3" fill="#4a7dff" textLength="29.4" lengthAdjust="spacingAndGlyphs" stroke="#4a7dff" stroke-width="0.12">0.00000</text>
<text x="107.5" y="25.6" font-size="9.3" fill="#4a7dff" textLength="29.4" lengthAdjust="spacingAndGlyphs" stroke="#4a7dff" stroke-width="0.12">0.00000</text>
<clipPath id="cp1"><rect x="8" y="392.4" width="100" height="6.4"/></clipPath>
<g clip-path="url(#cp1)">
<rect x="13" y="386" width="86.7" height="12.9" fill="#ffeb3b"/>
<line x1="43.3" y1="386" x2="43.3" y2="399" stroke="#fff" stroke-opacity="0.85" stroke-width="1"/>
<text x="16.75" y="395.9" font-size="8.3" fill="#2a2e39" textLength="20.4" lengthAdjust="spacingAndGlyphs" stroke="#2a2e39" stroke-width="0.12">56.61</text>
<text x="47" y="395.9" font-size="8.3" fill="#2a2e39" textLength="49" lengthAdjust="spacingAndGlyphs" stroke="#2a2e39" stroke-width="0.12">RSI-based MA</text>
</g>
<rect x="13" y="399.1" width="48.8" height="11.7" rx="1.5" fill="#22c3da"/>
<line x1="43.3" y1="399.1" x2="43.3" y2="410.8" stroke="#fff" stroke-opacity="0.7" stroke-width="0.9"/>
<text x="16.75" y="407.9" font-size="8.3" fill="#12303a" textLength="20.4" lengthAdjust="spacingAndGlyphs" stroke="#12303a" stroke-width="0.12">56.34</text>
<text x="47" y="407.4" font-size="8.3" fill="#12303a" textLength="11" lengthAdjust="spacingAndGlyphs" stroke="#12303a" stroke-width="0.12">RSI</text>
<text x="47.5" y="407.0" font-size="9.3" fill="#2a2e39" textLength="22.5" lengthAdjust="spacingAndGlyphs" stroke="#2a2e39" stroke-width="0.12">Stoch</text>
<text x="76.25" y="407.0" font-size="9.3" fill="#3d74ff" textLength="20" lengthAdjust="spacingAndGlyphs" stroke="#3d74ff" stroke-width="0.12">74.16</text>
<text x="101.9" y="407.0" font-size="9.3" fill="#ff7a1a" textLength="20" lengthAdjust="spacingAndGlyphs" stroke="#ff7a1a" stroke-width="0.12">80.70</text>
<text x="94.75" y="430.2" font-size="8.8" fill="#2a2e39" font-weight="normal" text-anchor="middle" textLength="8.9" lengthAdjust="spacingAndGlyphs" stroke="#2a2e39" stroke-width="0.12">28</text>
<text x="147.25" y="430.2" font-size="8.8" fill="#2a2e39" font-weight="bold" text-anchor="middle" textLength="13.7" lengthAdjust="spacingAndGlyphs" stroke="#2a2e39" stroke-width="0.12">Feb</text>
<text x="199.9" y="430.2" font-size="8.8" fill="#2a2e39" font-weight="normal" text-anchor="middle" textLength="4.3" lengthAdjust="spacingAndGlyphs" stroke="#2a2e39" stroke-width="0.12">5</text>
<text x="252.5" y="430.2" font-size="8.8" fill="#2a2e39" font-weight="normal" text-anchor="middle" textLength="8.9" lengthAdjust="spacingAndGlyphs" stroke="#2a2e39" stroke-width="0.12">10</text>
<text x="305.2" y="430.2" font-size="8.8" fill="#2a2e39" font-weight="normal" text-anchor="middle" textLength="8.9" lengthAdjust="spacingAndGlyphs" stroke="#2a2e39" stroke-width="0.12">13</text>
<text x="357.5" y="430.2" font-size="8.8" fill="#2a2e39" font-weight="normal" text-anchor="middle" textLength="8.9" lengthAdjust="spacingAndGlyphs" stroke="#2a2e39" stroke-width="0.12">18</text>
<text x="410.2" y="430.2" font-size="8.8" fill="#2a2e39" font-weight="normal" text-anchor="middle" textLength="8.9" lengthAdjust="spacingAndGlyphs" stroke="#2a2e39" stroke-width="0.12">23</text>
<text x="497.2" y="430.2" font-size="8.8" fill="#2a2e39" font-weight="bold" text-anchor="middle" textLength="13.7" lengthAdjust="spacingAndGlyphs" stroke="#2a2e39" stroke-width="0.12">Mar</text>
<text x="549.8" y="430.2" font-size="8.8" fill="#2a2e39" font-weight="normal" text-anchor="middle" textLength="4.3" lengthAdjust="spacingAndGlyphs" stroke="#2a2e39" stroke-width="0.12">5</text>
<text x="602.3" y="430.2" font-size="8.8" fill="#2a2e39" font-weight="normal" text-anchor="middle" textLength="8.9" lengthAdjust="spacingAndGlyphs" stroke="#2a2e39" stroke-width="0.12">10</text>
<text x="655.2" y="430.2" font-size="8.8" fill="#2a2e39" font-weight="normal" text-anchor="middle" textLength="8.9" lengthAdjust="spacingAndGlyphs" stroke="#2a2e39" stroke-width="0.12">13</text>
<text x="707.4" y="430.2" font-size="8.8" fill="#2a2e39" font-weight="normal" text-anchor="middle" textLength="8.9" lengthAdjust="spacingAndGlyphs" stroke="#2a2e39" stroke-width="0.12">18</text>
<text x="759.9" y="430.2" font-size="8.8" fill="#2a2e39" font-weight="normal" text-anchor="middle" textLength="8.9" lengthAdjust="spacingAndGlyphs" stroke="#2a2e39" stroke-width="0.12">23</text>
<text x="812.3" y="430.2" font-size="8.8" fill="#2a2e39" font-weight="normal" text-anchor="middle" textLength="8.9" lengthAdjust="spacingAndGlyphs" stroke="#2a2e39" stroke-width="0.12">26</text>
<text x="882.3" y="430.2" font-size="8.8" fill="#2a2e39" font-weight="bold" text-anchor="middle" textLength="13.7" lengthAdjust="spacingAndGlyphs" stroke="#2a2e39" stroke-width="0.12">Apr</text>
<text x="934.6" y="430.2" font-size="8.8" fill="#2a2e39" font-weight="normal" text-anchor="middle" textLength="4.3" lengthAdjust="spacingAndGlyphs" stroke="#2a2e39" stroke-width="0.12">6</text>
<circle cx="26" cy="427.1" r="6.3" fill="#f2f2f5"/>
<text x="26" y="429.6" font-size="7.2" fill="#50535e" text-anchor="middle" stroke="#50535e" stroke-width="0.12">Z</text>
<circle cx="995.3" cy="427.1" r="6.3" fill="#f2f2f5"/>
<text x="995.3" y="429.7" font-size="7.8" fill="#50535e" text-anchor="middle" stroke="#50535e" stroke-width="0.12">A</text>
<rect x="0" y="0" width="7.6" height="435" fill="#1f1f1f"/>
<rect x="1016.6" y="0" width="7.4" height="435" fill="#1f1f1f"/>
</g></svg></body></html>
